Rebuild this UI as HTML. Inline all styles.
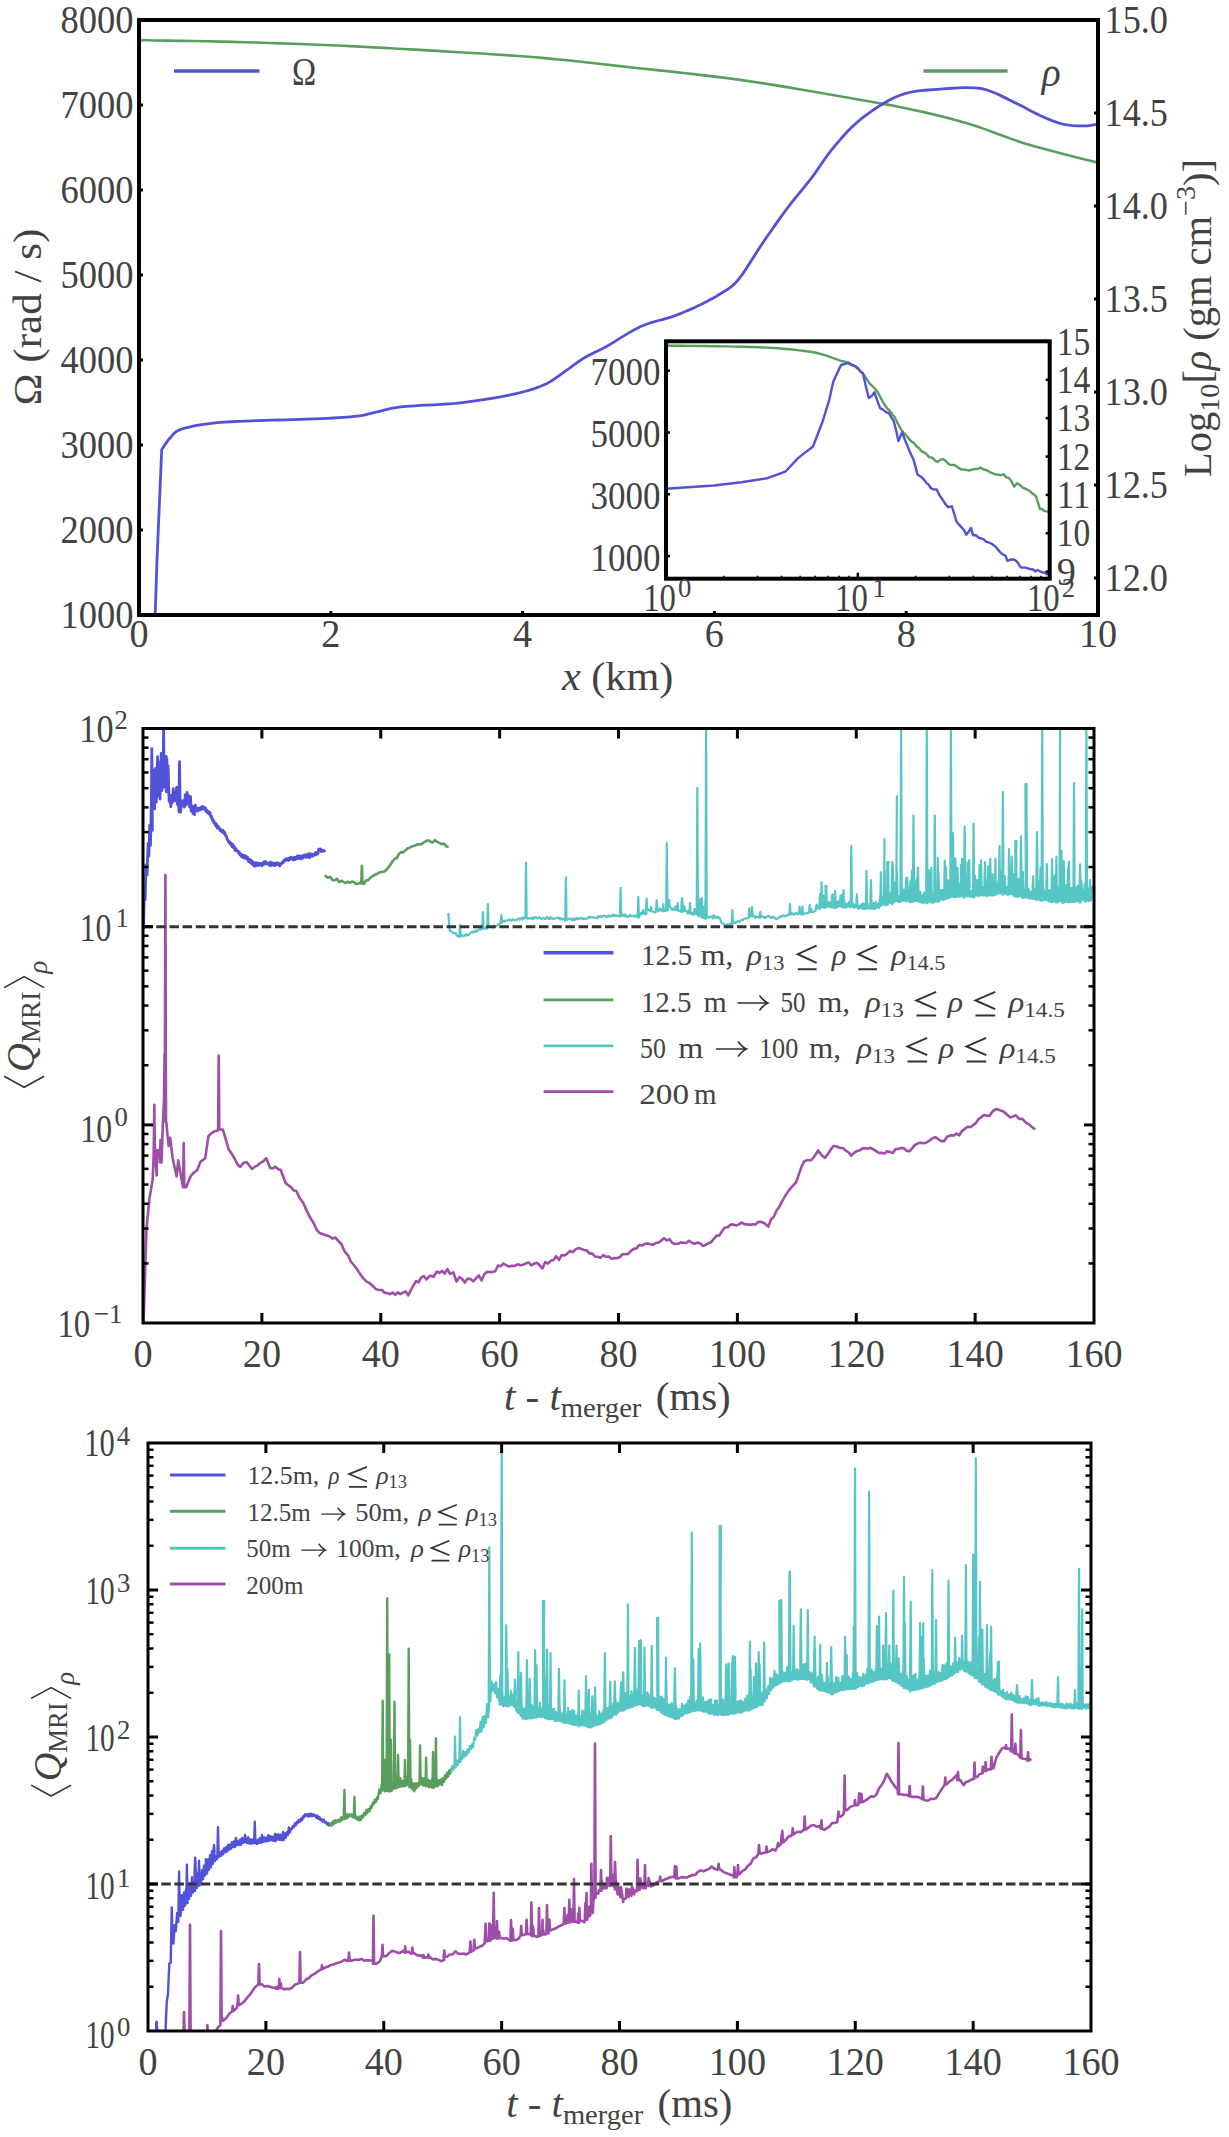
<!DOCTYPE html>
<html><head><meta charset="utf-8"><style>
html,body{margin:0;padding:0;background:#fff;}
svg{display:block;font-family:"Liberation Serif",serif;}
</style></head><body>
<svg width="1229" height="2137" viewBox="0 0 1229 2137">
<rect width="1229" height="2137" fill="#fff"/>
<g fill="#424242">
<polyline points="139.00,40.20 146.20,40.32 155.74,40.47 167.10,40.64 179.74,40.84 193.15,41.07 206.80,41.32 220.16,41.60 232.70,41.90 244.72,42.22 256.85,42.57 269.05,42.94 281.31,43.33 293.59,43.75 305.89,44.20 318.16,44.69 330.40,45.20 342.54,45.75 354.59,46.33 366.59,46.94 378.62,47.58 390.72,48.24 402.94,48.94 415.35,49.66 428.00,50.40 441.02,51.16 454.42,51.94 468.06,52.74 481.80,53.57 495.50,54.43 509.03,55.34 522.24,56.29 535.00,57.30 547.14,58.36 558.70,59.45 569.91,60.58 580.97,61.76 592.08,62.99 603.45,64.27 615.29,65.61 627.80,67.00 641.03,68.44 654.79,69.90 668.97,71.41 683.43,72.98 698.06,74.61 712.73,76.34 727.32,78.16 741.70,80.10 756.33,82.24 771.51,84.61 786.92,87.12 802.21,89.70 817.06,92.26 831.13,94.72 844.09,96.99 855.60,99.00 865.44,100.71 873.83,102.17 881.11,103.45 887.61,104.64 893.66,105.78 899.60,106.96 905.77,108.25 912.50,109.70 919.62,111.28 926.75,112.89 933.87,114.55 941.00,116.28 948.13,118.07 955.25,119.95 962.38,121.92 969.50,124.00 976.52,126.23 983.41,128.61 990.24,131.11 997.10,133.68 1004.06,136.29 1011.21,138.89 1018.63,141.44 1026.40,143.90 1035.05,146.41 1044.74,149.08 1054.97,151.79 1065.26,154.44 1075.09,156.94 1083.99,159.19 1091.46,161.07 1097.00,162.50" fill="none" stroke="#5a9e5e" stroke-width="2.6" stroke-linejoin="round" stroke-linecap="butt"/>
<polyline points="155.20,615.00 157.00,560.00 161.70,449.70 161.70,449.70 162.57,448.39 163.76,446.55 165.17,444.39 166.73,442.10 168.37,439.91 170.00,438.00 171.44,436.36 172.71,434.81 174.06,433.35 175.72,431.97 177.92,430.65 180.90,429.40 184.73,428.20 189.24,427.05 194.29,425.97 199.76,424.97 205.51,424.08 211.40,423.30 217.58,422.66 224.18,422.15 231.06,421.74 238.09,421.40 245.11,421.10 252.00,420.80 258.78,420.53 265.56,420.32 272.34,420.14 279.13,419.98 285.92,419.81 292.70,419.60 299.67,419.36 306.87,419.11 314.07,418.85 321.04,418.58 327.56,418.29 333.40,418.00 338.50,417.70 343.04,417.41 347.13,417.11 350.88,416.78 354.40,416.41 357.80,416.00 360.93,415.54 363.65,415.06 366.15,414.53 368.59,413.97 371.15,413.36 374.00,412.70 377.16,411.94 380.49,411.08 383.94,410.17 387.44,409.28 390.95,408.47 394.40,407.80 397.57,407.30 400.45,406.94 403.33,406.65 406.50,406.40 410.23,406.13 414.80,405.80 420.41,405.45 426.86,405.12 433.88,404.78 441.18,404.39 448.48,403.91 455.50,403.30 462.43,402.54 469.52,401.65 476.62,400.68 483.54,399.65 490.13,398.61 496.20,397.60 501.71,396.63 506.80,395.67 511.54,394.70 516.03,393.70 520.36,392.64 524.60,391.50 528.73,390.31 532.66,389.10 536.43,387.83 540.06,386.48 543.57,385.01 547.00,383.40 550.26,381.63 553.33,379.71 556.27,377.68 559.20,375.57 562.18,373.40 565.30,371.20 568.58,368.90 571.95,366.47 575.37,363.98 578.83,361.51 582.28,359.16 585.70,357.00 588.92,355.19 591.94,353.68 594.96,352.28 598.17,350.80 601.78,349.04 606.00,346.80 610.98,343.88 616.58,340.41 622.59,336.65 628.76,332.89 634.88,329.42 640.70,326.50 646.34,324.22 652.00,322.35 657.59,320.77 663.05,319.33 668.28,317.88 673.20,316.30 677.76,314.62 682.01,312.97 686.03,311.32 689.91,309.64 693.74,307.91 697.60,306.10 701.50,304.22 705.37,302.29 709.18,300.31 712.91,298.27 716.53,296.17 720.00,294.00 723.22,292.00 726.18,290.23 729.02,288.39 731.90,286.21 734.94,283.41 738.30,279.70 742.01,274.85 745.98,269.04 750.12,262.61 754.34,255.90 758.56,249.25 762.70,243.00 766.77,237.08 770.83,231.19 774.90,225.36 778.97,219.62 783.03,213.99 787.10,208.50 791.21,203.16 795.38,197.96 799.55,192.88 803.66,187.87 807.66,182.92 811.50,178.00 815.09,173.11 818.45,168.28 821.70,163.50 824.95,158.78 828.31,154.11 831.90,149.50 835.69,144.90 839.59,140.29 843.59,135.74 847.71,131.30 851.95,127.03 856.30,123.00 860.86,119.14 865.65,115.40 870.55,111.83 875.45,108.49 880.24,105.43 884.80,102.70 889.06,100.33 893.09,98.29 897.00,96.53 900.91,95.01 904.94,93.68 909.20,92.50 913.69,91.54 918.32,90.86 923.07,90.36 927.90,89.99 932.79,89.66 937.70,89.30 942.79,88.89 948.10,88.49 953.46,88.12 958.71,87.85 963.68,87.69 968.20,87.70 972.10,87.80 975.49,87.96 978.60,88.24 981.65,88.71 984.88,89.44 988.50,90.50 992.54,91.97 996.80,93.79 1001.24,95.88 1005.80,98.13 1010.40,100.44 1015.00,102.70 1019.72,105.04 1024.62,107.57 1029.58,110.16 1034.46,112.67 1039.11,115.00 1043.40,117.00 1047.26,118.69 1050.80,120.16 1054.11,121.44 1057.30,122.55 1060.50,123.49 1063.80,124.30 1067.27,124.93 1070.85,125.37 1074.42,125.66 1077.89,125.81 1081.15,125.88 1084.10,125.90 1086.83,125.80 1089.43,125.54 1091.82,125.20 1093.93,124.83 1095.68,124.51 1097.00,124.30" fill="none" stroke="#5252d8" stroke-width="2.8" stroke-linejoin="round" stroke-linecap="butt"/>
<line x1="174.00" y1="70.90" x2="259.40" y2="70.90" stroke="#5252d8" stroke-width="3.5"/>
<line x1="923.40" y1="71.00" x2="1007.60" y2="71.00" stroke="#5a9e5e" stroke-width="3.5"/>
<g transform="translate(292.00,84.50) scale(0.8134,1)"><text x="0.00" y="0.00" font-size="40" xml:space="preserve">Ω</text></g>
<g transform="translate(1041.86,85.78) scale(0.9412,1)"><text x="0.00" y="0.00" font-size="42.0" font-style="italic" xml:space="preserve">ρ</text></g>
<rect x="666" y="341.3" width="383.70000000000005" height="237.40000000000003" fill="#fff"/>
<polyline points="666.00,345.60 672.55,345.68 681.70,345.78 692.50,345.90 703.97,346.04 715.16,346.21 725.10,346.40 734.02,346.60 742.73,346.81 751.16,347.04 759.21,347.31 766.82,347.63 773.90,348.00 780.46,348.45 786.57,348.98 792.24,349.55 797.45,350.14 802.20,350.74 806.50,351.30 810.15,351.81 813.11,352.28 815.62,352.75 817.90,353.25 820.18,353.82 822.70,354.50 825.49,355.34 828.37,356.33 831.26,357.38 834.05,358.43 836.66,359.39 839.00,360.20 841.04,360.81 842.85,361.29 844.48,361.68 845.96,362.04 847.36,362.43 848.70,362.90 849.93,363.41 850.99,363.91 851.96,364.43 852.90,365.01 853.89,365.69 855.00,366.50 856.33,367.55 857.84,368.84 859.39,370.23 860.86,371.56 862.11,372.70 863.00,373.50 863.00,373.67 865.23,377.01 867.47,380.25 869.70,383.62 872.55,386.24 875.40,389.39 877.80,392.19 880.20,396.85 882.60,401.57 885.00,405.21 887.40,408.66 889.80,410.66 892.20,414.26 894.60,417.05 897.13,422.26 899.67,427.10 902.20,431.12 904.60,433.78 907.00,436.24 909.40,439.51 911.80,441.67 914.17,443.22 916.55,446.52 918.92,447.99 921.30,451.06 923.87,452.28 926.43,454.00 929.00,457.12 931.15,457.39 933.30,458.60 935.45,460.88 937.60,461.92 940.45,459.66 943.30,459.15 945.53,460.79 947.77,463.22 950.00,464.79 953.80,464.92 956.37,466.17 958.93,468.15 961.50,469.65 964.03,469.45 966.57,470.17 969.10,470.53 971.40,469.92 973.70,469.23 976.00,468.98 978.30,468.82 980.60,467.40 983.00,469.30 985.40,469.77 987.80,470.68 990.20,472.35 993.05,473.32 995.90,474.54 998.47,474.77 1001.03,475.09 1003.60,474.18 1006.13,477.37 1008.67,477.93 1011.20,480.85 1014.10,486.78 1017.00,483.33 1020.80,485.70 1023.00,487.81 1026.50,489.21 1029.35,490.81 1032.20,493.27 1036.10,496.35 1039.90,508.94 1041.95,508.98 1044.00,510.86 1046.70,511.40 1049.40,511.72" fill="none" stroke="#5a9e5e" stroke-width="2.4" stroke-linejoin="round" stroke-linecap="butt"/>
<polyline points="666.00,488.80 713.70,485.50 741.40,482.30 767.40,478.20 785.30,471.70 798.30,457.90 813.00,446.50 822.70,421.20 829.20,400.10 833.30,381.40 841.00,365.00 848.70,362.90 848.70,363.49 850.93,364.84 853.17,365.47 855.40,366.32 857.93,368.03 860.47,371.59 863.00,373.44 865.90,386.42 868.80,398.05 871.65,395.99 874.50,392.15 877.35,400.85 880.20,408.36 882.35,409.15 884.50,410.83 886.65,412.54 888.80,412.99 891.20,417.06 893.60,420.91 896.00,429.88 898.40,441.01 902.20,432.17 904.77,439.49 907.33,445.47 909.90,451.99 913.70,460.10 917.50,474.41 919.73,475.92 921.97,477.45 924.20,479.89 926.35,482.92 928.50,484.38 930.65,487.85 932.80,489.28 936.60,489.50 939.50,495.21 942.40,499.42 945.25,503.87 948.10,507.12 951.90,506.33 954.30,514.24 956.70,522.00 959.10,524.61 961.50,527.35 963.90,529.76 966.30,534.72 968.65,531.85 971.00,527.91 973.00,535.18 975.85,535.18 978.70,537.76 981.10,538.48 983.50,539.08 985.90,541.60 988.30,542.32 991.15,543.49 994.00,545.47 996.85,548.13 999.70,551.62 1002.60,554.38 1005.50,555.50 1007.40,560.83 1011.20,559.46 1014.05,559.38 1016.90,561.47 1020.80,567.41 1023.17,567.54 1025.55,567.61 1027.92,568.45 1030.30,569.18 1032.70,569.15 1035.10,571.40 1037.50,570.01 1039.90,571.25 1042.18,572.54 1044.45,572.50 1046.72,574.31 1049.00,573.49" fill="none" stroke="#5252d8" stroke-width="2.4" stroke-linejoin="round" stroke-linecap="butt"/>
<rect x="666.00" y="341.30" width="383.70" height="237.40" fill="none" stroke="#000" stroke-width="4"/>
<line x1="666.00" y1="370.70" x2="670.00" y2="370.70" stroke="#000" stroke-width="2.5"/>
<g transform="translate(590.60,385.32) scale(0.8750,1)"><text x="0.00" y="0.00" font-size="40" xml:space="preserve">7000</text></g>
<line x1="666.00" y1="432.50" x2="670.00" y2="432.50" stroke="#000" stroke-width="2.5"/>
<g transform="translate(590.60,447.12) scale(0.8750,1)"><text x="0.00" y="0.00" font-size="40" xml:space="preserve">5000</text></g>
<line x1="666.00" y1="494.30" x2="670.00" y2="494.30" stroke="#000" stroke-width="2.5"/>
<g transform="translate(590.60,508.93) scale(0.8750,1)"><text x="0.00" y="0.00" font-size="40" xml:space="preserve">3000</text></g>
<line x1="666.00" y1="556.10" x2="670.00" y2="556.10" stroke="#000" stroke-width="2.5"/>
<g transform="translate(590.60,570.73) scale(0.8750,1)"><text x="0.00" y="0.00" font-size="40" xml:space="preserve">1000</text></g>
<g transform="translate(1056.80,354.50) scale(0.8375,1)"><text x="0.00" y="0.00" font-size="40" xml:space="preserve">15</text></g>
<line x1="1045.70" y1="379.85" x2="1049.70" y2="379.85" stroke="#000" stroke-width="2.5"/>
<g transform="translate(1056.80,393.04) scale(0.8375,1)"><text x="0.00" y="0.00" font-size="40" xml:space="preserve">14</text></g>
<line x1="1045.70" y1="418.20" x2="1049.70" y2="418.20" stroke="#000" stroke-width="2.5"/>
<g transform="translate(1056.80,431.26) scale(0.8375,1)"><text x="0.00" y="0.00" font-size="40" xml:space="preserve">13</text></g>
<line x1="1045.70" y1="456.55" x2="1049.70" y2="456.55" stroke="#000" stroke-width="2.5"/>
<g transform="translate(1056.80,469.80) scale(0.8375,1)"><text x="0.00" y="0.00" font-size="40" xml:space="preserve">12</text></g>
<line x1="1045.70" y1="494.90" x2="1049.70" y2="494.90" stroke="#000" stroke-width="2.5"/>
<g transform="translate(1056.80,508.09) scale(0.8701,1)"><text x="0.00" y="0.00" font-size="40" xml:space="preserve">11</text></g>
<line x1="1045.70" y1="533.25" x2="1049.70" y2="533.25" stroke="#000" stroke-width="2.5"/>
<g transform="translate(1056.80,546.38) scale(0.8375,1)"><text x="0.00" y="0.00" font-size="40" xml:space="preserve">10</text></g>
<line x1="1045.70" y1="571.60" x2="1049.70" y2="571.60" stroke="#000" stroke-width="2.5"/>
<g transform="translate(1056.80,584.66) scale(0.9550,1)"><text x="0.00" y="0.00" font-size="40" xml:space="preserve">9</text></g>
<line x1="723.75" y1="578.70" x2="723.75" y2="575.70" stroke="#000" stroke-width="1.5"/>
<line x1="757.54" y1="578.70" x2="757.54" y2="575.70" stroke="#000" stroke-width="1.5"/>
<line x1="781.51" y1="578.70" x2="781.51" y2="575.70" stroke="#000" stroke-width="1.5"/>
<line x1="800.10" y1="578.70" x2="800.10" y2="575.70" stroke="#000" stroke-width="1.5"/>
<line x1="815.29" y1="578.70" x2="815.29" y2="575.70" stroke="#000" stroke-width="1.5"/>
<line x1="828.13" y1="578.70" x2="828.13" y2="575.70" stroke="#000" stroke-width="1.5"/>
<line x1="839.26" y1="578.70" x2="839.26" y2="575.70" stroke="#000" stroke-width="1.5"/>
<line x1="849.07" y1="578.70" x2="849.07" y2="575.70" stroke="#000" stroke-width="1.5"/>
<g transform="translate(643.20,611.27) scale(0.8200,1)"><text x="0.00" y="0.00" font-size="40" xml:space="preserve">10</text></g>
<g transform="translate(678.00,597.29) scale(0.9550,1)"><text x="0.00" y="0.00" font-size="28" xml:space="preserve">0</text></g>
<line x1="915.60" y1="578.70" x2="915.60" y2="575.70" stroke="#000" stroke-width="1.5"/>
<line x1="949.39" y1="578.70" x2="949.39" y2="575.70" stroke="#000" stroke-width="1.5"/>
<line x1="973.36" y1="578.70" x2="973.36" y2="575.70" stroke="#000" stroke-width="1.5"/>
<line x1="991.95" y1="578.70" x2="991.95" y2="575.70" stroke="#000" stroke-width="1.5"/>
<line x1="1007.14" y1="578.70" x2="1007.14" y2="575.70" stroke="#000" stroke-width="1.5"/>
<line x1="1019.98" y1="578.70" x2="1019.98" y2="575.70" stroke="#000" stroke-width="1.5"/>
<line x1="1031.11" y1="578.70" x2="1031.11" y2="575.70" stroke="#000" stroke-width="1.5"/>
<line x1="1040.92" y1="578.70" x2="1040.92" y2="575.70" stroke="#000" stroke-width="1.5"/>
<line x1="857.85" y1="578.70" x2="857.85" y2="572.70" stroke="#000" stroke-width="2.5"/>
<g transform="translate(835.05,611.27) scale(0.8200,1)"><text x="0.00" y="0.00" font-size="40" xml:space="preserve">10</text></g>
<g transform="translate(872.55,597.35) scale(0.9550,1)"><text x="0.00" y="0.00" font-size="28" xml:space="preserve">1</text></g>
<g transform="translate(1026.90,611.27) scale(0.8200,1)"><text x="0.00" y="0.00" font-size="40" xml:space="preserve">10</text></g>
<g transform="translate(1061.70,597.35) scale(0.9550,1)"><text x="0.00" y="0.00" font-size="28" xml:space="preserve">2</text></g>
<rect x="139.00" y="20.00" width="959.00" height="595.00" fill="none" stroke="#000" stroke-width="4"/>
<g transform="translate(60.40,628.12) scale(0.9125,1)"><text x="0.00" y="0.00" font-size="40" xml:space="preserve">1000</text></g>
<line x1="139.00" y1="530.00" x2="143.00" y2="530.00" stroke="#000" stroke-width="3"/>
<g transform="translate(60.40,543.12) scale(0.9125,1)"><text x="0.00" y="0.00" font-size="40" xml:space="preserve">2000</text></g>
<line x1="139.00" y1="445.00" x2="143.00" y2="445.00" stroke="#000" stroke-width="3"/>
<g transform="translate(60.40,458.12) scale(0.9125,1)"><text x="0.00" y="0.00" font-size="40" xml:space="preserve">3000</text></g>
<line x1="139.00" y1="360.00" x2="143.00" y2="360.00" stroke="#000" stroke-width="3"/>
<g transform="translate(60.40,373.12) scale(0.9125,1)"><text x="0.00" y="0.00" font-size="40" xml:space="preserve">4000</text></g>
<line x1="139.00" y1="275.00" x2="143.00" y2="275.00" stroke="#000" stroke-width="3"/>
<g transform="translate(60.40,288.12) scale(0.9125,1)"><text x="0.00" y="0.00" font-size="40" xml:space="preserve">5000</text></g>
<line x1="139.00" y1="190.00" x2="143.00" y2="190.00" stroke="#000" stroke-width="3"/>
<g transform="translate(60.40,203.12) scale(0.9125,1)"><text x="0.00" y="0.00" font-size="40" xml:space="preserve">6000</text></g>
<line x1="139.00" y1="105.00" x2="143.00" y2="105.00" stroke="#000" stroke-width="3"/>
<g transform="translate(60.40,118.12) scale(0.9125,1)"><text x="0.00" y="0.00" font-size="40" xml:space="preserve">7000</text></g>
<g transform="translate(60.40,33.12) scale(0.9125,1)"><text x="0.00" y="0.00" font-size="40" xml:space="preserve">8000</text></g>

<g transform="translate(129.45,647.33) scale(0.9550,1)"><text x="0.00" y="0.00" font-size="40" xml:space="preserve">0</text></g>
<line x1="330.80" y1="615.00" x2="330.80" y2="611.00" stroke="#000" stroke-width="3"/>

<g transform="translate(321.25,647.45) scale(0.9550,1)"><text x="0.00" y="0.00" font-size="40" xml:space="preserve">2</text></g>
<line x1="522.60" y1="615.00" x2="522.60" y2="611.00" stroke="#000" stroke-width="3"/>

<g transform="translate(513.05,647.39) scale(0.9550,1)"><text x="0.00" y="0.00" font-size="40" xml:space="preserve">4</text></g>
<line x1="714.40" y1="615.00" x2="714.40" y2="611.00" stroke="#000" stroke-width="3"/>

<g transform="translate(704.85,647.26) scale(0.9550,1)"><text x="0.00" y="0.00" font-size="40" xml:space="preserve">6</text></g>
<line x1="906.20" y1="615.00" x2="906.20" y2="611.00" stroke="#000" stroke-width="3"/>

<g transform="translate(896.65,647.33) scale(0.9550,1)"><text x="0.00" y="0.00" font-size="40" xml:space="preserve">8</text></g>

<g transform="translate(1078.90,647.33) scale(0.9550,1)"><text x="0.00" y="0.00" font-size="40" xml:space="preserve">10</text></g>
<g transform="translate(1104.50,33.00) scale(0.9071,1)"><text x="0.00" y="0.00" font-size="40" xml:space="preserve">15.0</text></g>
<line x1="1098.00" y1="113.00" x2="1094.00" y2="113.00" stroke="#000" stroke-width="3"/>
<g transform="translate(1104.50,125.88) scale(0.9071,1)"><text x="0.00" y="0.00" font-size="40" xml:space="preserve">14.5</text></g>
<line x1="1098.00" y1="206.00" x2="1094.00" y2="206.00" stroke="#000" stroke-width="3"/>
<g transform="translate(1104.50,219.00) scale(0.9071,1)"><text x="0.00" y="0.00" font-size="40" xml:space="preserve">14.0</text></g>
<line x1="1098.00" y1="299.00" x2="1094.00" y2="299.00" stroke="#000" stroke-width="3"/>
<g transform="translate(1104.50,311.94) scale(0.9071,1)"><text x="0.00" y="0.00" font-size="40" xml:space="preserve">13.5</text></g>
<line x1="1098.00" y1="392.00" x2="1094.00" y2="392.00" stroke="#000" stroke-width="3"/>
<g transform="translate(1104.50,405.00) scale(0.9071,1)"><text x="0.00" y="0.00" font-size="40" xml:space="preserve">13.0</text></g>
<line x1="1098.00" y1="485.00" x2="1094.00" y2="485.00" stroke="#000" stroke-width="3"/>
<g transform="translate(1104.50,497.94) scale(0.9071,1)"><text x="0.00" y="0.00" font-size="40" xml:space="preserve">12.5</text></g>
<line x1="1098.00" y1="578.00" x2="1094.00" y2="578.00" stroke="#000" stroke-width="3"/>
<g transform="translate(1104.50,591.00) scale(0.9071,1)"><text x="0.00" y="0.00" font-size="40" xml:space="preserve">12.0</text></g>
<g transform="translate(561.93,689.83) scale(1.0566,1)"><text x="0.00" y="0.00" font-size="40" font-style="italic" xml:space="preserve">x</text><text x="17.75" y="0.00" font-size="40" xml:space="preserve"> (km)</text></g>
<g transform="translate(31.50,317.00) rotate(-90) translate(-88.45,9.62) scale(1.0778,1)"><text x="0.00" y="0.00" font-size="40" xml:space="preserve">Ω (rad / s)</text></g>
<g transform="translate(1198.00,318.00) rotate(-90) translate(-159.00,12.94) scale(1.0106,1)"><text x="0.00" y="0.00" font-size="40" xml:space="preserve">Log</text><text x="64.43" y="8.00" font-size="28" xml:space="preserve">10</text><text x="92.43" y="0.00" font-size="40" xml:space="preserve">[</text><text x="105.75" y="0.00" font-size="40" font-style="italic" xml:space="preserve">ρ</text><text x="124.95" y="0.00" font-size="40" xml:space="preserve"> (gm cm</text><text x="258.25" y="-16.00" font-size="28" xml:space="preserve">−3</text><text x="288.04" y="0.00" font-size="40" xml:space="preserve">)]</text></g>
<defs><clipPath id="clip2"><rect x="143" y="728.5" width="951" height="594.5"/></clipPath><clipPath id="clip3"><rect x="148" y="1443" width="943" height="588"/></clipPath></defs>
<g clip-path="url(#clip2)">
<polyline points="143.50,1324.46 144.50,1291.43 146.50,1228.58 149.50,1198.37 152.70,1179.07 153.70,1154.76 154.30,1104.80 154.90,1154.76 155.10,1154.76 156.70,1175.34 156.90,1150.39 157.50,1150.00 158.10,1150.39 159.10,1150.39 159.90,1162.34 160.50,1140.00 161.10,1162.34 161.50,1162.34 163.00,1121.04 164.00,1100.26 164.60,1054.00 165.20,1100.26 164.60,1100.26 164.80,1121.21 165.40,875.10 166.00,1121.21 166.20,1121.21 168.60,1145.98 170.20,1137.86 172.60,1158.01 176.60,1176.38 178.20,1160.34 181.30,1178.14 183.10,1187.32 183.70,1143.00 184.30,1187.32 186.10,1187.32 190.90,1175.66 194.05,1172.51 197.20,1170.09 200.40,1161.89 205.20,1158.32 208.40,1136.22 211.50,1133.15 214.70,1131.18 217.90,1130.49 218.10,1129.46 218.70,1055.50 219.30,1129.46 222.70,1129.46 223.30,1130.98 228.50,1148.94 232.40,1154.84 235.03,1159.50 237.67,1164.53 240.30,1166.96 243.55,1162.68 246.80,1162.26 252.00,1168.95 254.60,1166.92 257.20,1165.63 259.80,1163.34 263.05,1161.48 266.30,1158.13 270.20,1167.94 272.80,1168.53 275.40,1166.62 278.00,1169.16 280.60,1169.69 285.80,1183.18 288.43,1185.32 291.05,1187.12 293.68,1190.43 296.30,1191.00 299.77,1198.19 303.23,1202.80 306.70,1210.63 310.13,1217.55 313.57,1223.01 317.00,1230.22 319.62,1233.02 322.25,1234.07 324.88,1234.98 327.50,1235.81 330.12,1236.79 332.75,1238.64 335.38,1237.58 338.00,1240.61 341.43,1244.22 344.87,1251.95 348.30,1255.69 350.93,1261.66 353.55,1264.76 356.18,1268.01 358.80,1271.96 361.40,1275.85 364.00,1279.11 366.60,1281.70 369.72,1283.19 372.84,1285.98 375.96,1289.15 379.08,1289.97 382.20,1290.04 384.80,1292.95 387.40,1293.16 390.00,1294.26 392.60,1292.49 395.20,1294.78 397.80,1292.37 400.40,1294.06 403.00,1292.62 405.60,1291.38 408.20,1295.32 410.80,1290.18 416.00,1281.14 418.62,1282.27 421.25,1277.37 423.88,1276.15 426.50,1279.44 429.97,1275.67 433.43,1276.72 436.90,1271.50 439.52,1272.92 442.14,1271.00 444.76,1273.51 447.38,1269.03 450.00,1273.91 453.30,1272.46 456.60,1281.47 459.36,1277.14 462.12,1278.84 464.88,1282.61 467.64,1278.61 470.40,1278.98 473.18,1281.31 475.96,1278.43 478.74,1275.32 481.52,1280.46 484.30,1274.17 487.04,1271.75 489.78,1272.04 492.52,1272.10 495.26,1271.23 498.00,1265.52 500.79,1266.19 503.57,1263.45 506.36,1265.36 509.14,1266.62 511.93,1265.68 514.71,1265.94 517.50,1264.24 520.27,1265.30 523.03,1264.67 525.80,1263.56 528.57,1262.35 531.33,1265.52 534.10,1263.69 536.87,1262.70 539.63,1265.29 542.40,1268.40 545.17,1262.12 547.93,1263.54 550.70,1260.81 553.47,1260.09 556.23,1256.22 559.00,1259.94 561.76,1254.94 564.51,1255.47 567.27,1253.65 570.03,1250.88 572.79,1252.25 575.54,1249.42 578.30,1248.05 581.08,1248.66 583.87,1249.94 586.65,1250.37 589.43,1253.46 592.22,1253.62 595.00,1256.43 597.75,1256.89 600.50,1257.84 603.25,1255.17 606.00,1256.79 608.75,1256.62 611.50,1258.80 614.29,1258.17 617.07,1258.18 619.86,1257.01 622.64,1254.24 625.43,1254.20 628.21,1253.89 631.00,1250.82 633.75,1248.86 636.50,1248.40 639.25,1244.99 642.00,1245.58 644.75,1243.81 647.50,1243.54 650.25,1244.25 653.00,1244.82 655.75,1243.01 658.50,1242.59 661.25,1240.59 664.00,1238.16 666.80,1240.36 669.60,1239.21 672.40,1243.01 675.20,1244.00 678.00,1243.71 680.75,1242.41 683.50,1242.75 686.25,1243.06 689.00,1240.73 691.77,1242.79 694.53,1243.71 697.30,1242.65 700.07,1243.20 702.83,1245.92 705.60,1244.97 708.35,1243.19 711.10,1242.20 713.85,1238.93 716.60,1235.63 719.38,1235.42 722.15,1231.04 724.93,1227.49 727.70,1227.19 730.48,1224.62 733.25,1224.58 736.02,1225.59 738.80,1224.35 741.56,1222.53 744.32,1224.20 747.08,1224.35 749.84,1224.87 752.60,1224.27 755.40,1224.58 758.20,1222.04 761.00,1221.81 764.65,1223.44 768.30,1226.59 771.07,1219.24 773.83,1216.82 776.60,1210.42 779.35,1206.78 782.10,1201.35 785.55,1195.38 789.00,1190.11 792.50,1186.16 796.00,1182.49 798.77,1174.66 801.53,1166.69 804.30,1161.32 807.75,1159.95 811.20,1160.27 814.65,1156.02 818.10,1150.48 821.55,1155.01 825.00,1157.89 827.77,1154.18 830.53,1149.93 833.30,1145.94 836.75,1146.56 840.20,1147.96 842.98,1148.04 845.75,1150.63 848.52,1152.25 851.30,1155.56 854.05,1152.87 856.80,1151.08 859.56,1150.56 862.32,1148.61 865.08,1148.18 867.84,1148.78 870.60,1147.83 873.38,1149.34 876.15,1151.12 878.93,1152.86 881.70,1152.77 884.47,1153.52 887.23,1151.21 890.00,1152.04 892.77,1152.99 895.53,1149.17 898.30,1148.93 901.07,1147.94 903.85,1148.13 906.62,1150.84 909.40,1151.26 912.17,1148.34 914.93,1144.84 917.70,1143.55 920.45,1142.64 923.20,1143.35 925.95,1142.68 928.70,1141.20 932.90,1138.08 935.67,1137.33 938.45,1139.28 941.23,1141.16 944.00,1141.12 947.45,1136.51 950.90,1135.35 953.67,1135.56 956.43,1133.66 959.20,1135.26 961.95,1131.08 964.70,1129.05 967.48,1126.72 970.25,1127.23 973.02,1125.18 975.80,1123.14 978.55,1118.96 981.30,1117.11 984.07,1114.89 986.83,1115.80 989.60,1115.82 993.05,1110.78 996.50,1109.03 999.95,1110.34 1003.40,1111.50 1006.85,1114.57 1010.30,1117.40 1013.10,1116.36 1015.90,1115.31 1019.13,1118.91 1022.37,1118.92 1025.60,1122.29 1028.80,1124.31 1032.00,1126.94 1035.20,1129.53" fill="none" stroke="#9e4ea8" stroke-width="2.6" stroke-linejoin="round" stroke-linecap="butt"/>
<polyline points="143.50,929.45 144.33,891.82 145.17,899.81 146.00,865.00 147.05,874.95 148.10,843.48 148.90,856.02 149.70,825.21 150.50,845.42 151.35,802.16 151.20,830.30 151.80,748.60 152.40,830.30 152.20,830.30 152.40,781.19 153.00,769.80 153.60,781.19 153.50,781.19 154.50,809.03 155.50,768.29 156.33,802.13 157.17,769.31 156.90,795.81 157.50,756.70 158.10,795.81 158.00,795.81 159.00,762.13 160.00,799.20 161.00,761.20 160.60,790.53 161.20,753.50 161.80,790.53 162.00,790.53 162.80,768.58 163.00,787.16 163.60,725.00 164.20,787.16 163.60,787.16 164.40,756.43 165.32,786.88 166.25,756.46 166.30,791.78 166.90,759.20 167.50,791.78 167.18,791.78 168.10,765.84 169.10,801.37 170.10,800.27 170.90,806.47 171.70,795.14 172.50,802.41 173.32,788.68 174.14,800.95 174.96,795.57 175.78,800.57 176.60,787.37 177.43,804.32 178.25,796.06 179.07,811.97 178.90,804.73 179.50,761.60 180.10,804.73 179.90,804.73 180.70,812.00 181.50,800.82 182.30,805.01 183.30,800.67 184.30,807.16 185.23,794.82 186.15,804.85 187.07,792.35 188.00,803.57 188.81,795.86 189.63,807.06 190.44,796.36 191.26,811.16 192.07,805.55 192.89,813.47 193.70,807.19 194.52,814.53 195.35,805.12 196.18,810.82 197.00,808.20 197.81,811.18 198.62,808.23 199.43,810.01 200.24,807.89 201.06,809.51 201.87,806.70 202.68,808.93 203.49,806.79 204.30,808.97 205.12,807.61 205.93,811.40 206.75,810.01 207.57,812.78 208.38,811.17 209.20,813.99 210.01,812.59 210.82,817.06 211.64,816.37 212.45,820.48 213.26,819.96 214.07,823.12 214.89,822.47 215.70,825.96 216.51,823.98 217.32,828.13 218.12,826.02 218.93,828.78 219.74,828.36 220.55,830.72 221.36,830.00 222.17,831.99 222.97,830.33 223.78,833.29 224.59,832.21 225.40,835.46 226.23,835.74 227.07,839.14 227.90,840.06 228.71,842.23 229.51,841.74 230.32,844.04 231.13,843.35 231.93,846.79 232.74,844.06 233.55,847.72 234.35,846.41 235.16,850.54 235.97,848.81 236.77,850.72 237.58,850.81 238.39,852.74 239.19,851.86 240.00,854.95 240.85,853.87 241.70,856.82 242.55,855.12 243.40,857.87 244.25,855.42 245.10,858.08 245.95,856.11 246.80,858.98 247.67,857.24 248.53,861.60 249.40,859.36 250.27,862.57 251.13,860.00 252.00,864.12 252.87,861.80 253.73,865.82 254.60,862.92 255.40,866.21 256.20,862.64 257.00,865.08 257.80,863.08 258.60,865.64 259.40,863.34 260.20,864.89 261.00,863.49 261.80,865.82 262.60,862.96 263.40,864.65 264.20,861.79 265.00,863.87 265.82,861.61 266.64,863.84 267.46,863.38 268.28,864.37 269.11,862.86 269.93,865.59 270.75,862.00 271.57,865.36 272.39,862.89 273.21,865.01 274.03,863.34 274.85,865.67 275.67,863.15 276.49,864.66 277.32,862.78 278.14,864.47 278.96,863.45 279.78,866.11 280.60,863.93 281.47,863.80 282.33,862.17 283.20,862.45 284.07,860.21 284.93,860.88 285.80,858.78 286.63,859.96 287.45,858.69 288.28,860.41 289.11,858.25 289.93,859.66 290.76,857.20 291.58,858.77 292.41,858.05 293.24,860.07 294.06,857.26 294.89,859.65 295.72,857.52 296.54,858.87 297.37,855.96 298.19,858.22 299.02,855.83 299.85,858.49 300.67,856.23 301.50,858.99 302.32,855.96 303.13,857.67 303.95,855.27 304.76,857.09 305.58,854.61 306.39,857.37 307.21,854.78 308.03,856.98 308.84,853.80 309.66,857.61 310.47,853.78 311.29,856.27 312.11,854.28 312.92,856.13 313.74,854.66 314.55,855.03 315.37,852.68 316.18,854.79 317.00,852.51 317.90,854.03 318.80,849.09 319.70,849.35 320.57,848.88 321.43,851.66 322.30,850.28 323.17,851.15 324.03,850.54 324.90,852.15" fill="none" stroke="#5252d8" stroke-width="2.8" stroke-linejoin="round" stroke-linecap="butt"/>
<polyline points="324.90,875.19 327.50,877.64 330.10,876.79 332.70,880.31 334.87,880.00 337.03,878.85 339.20,882.05 341.37,880.72 343.53,882.09 345.70,882.98 347.74,881.72 349.79,882.81 351.83,881.48 353.87,881.90 355.91,884.06 357.96,883.77 360.00,882.87 361.30,883.35 361.90,865.80 362.50,883.35 362.00,883.35 364.00,883.93 366.08,880.41 368.16,880.16 370.24,877.77 372.32,876.41 374.40,875.07 376.48,874.34 378.56,872.81 380.64,872.25 382.72,871.69 384.80,871.37 387.40,868.61 390.00,865.28 392.60,861.25 394.68,858.80 396.76,858.21 398.84,854.13 400.92,852.14 403.00,852.45 405.08,850.84 407.16,848.55 409.24,848.01 411.32,846.73 413.40,846.09 415.58,845.20 417.77,844.23 419.95,844.54 422.13,843.70 424.32,842.07 426.50,840.92 428.58,840.35 430.66,841.80 432.74,842.46 434.82,840.19 436.90,841.61 439.24,842.92 441.58,844.11 443.92,843.55 446.26,846.44 448.60,846.71" fill="none" stroke="#5a9e5e" stroke-width="2.6" stroke-linejoin="round" stroke-linecap="butt"/>
<polyline points="448.30,912.87 449.70,930.39 450.70,931.18 451.70,931.77 452.70,932.69 453.70,933.23 454.70,933.32 455.70,932.93 456.70,935.31 457.70,936.07 458.70,936.73 459.70,936.80 459.40,936.09 460.00,925.00 460.60,936.09 460.70,936.09 461.78,936.00 462.86,935.33 463.93,936.13 465.01,935.44 466.09,934.11 467.17,935.49 468.24,935.08 469.32,934.42 470.40,932.91 471.41,932.12 472.42,931.54 473.43,932.63 474.44,931.95 475.45,930.56 476.45,931.67 477.46,930.49 478.47,929.74 479.48,929.36 480.49,929.71 481.50,928.69 482.56,928.97 482.30,927.48 482.90,912.00 483.50,927.48 483.62,927.48 484.68,928.66 485.75,927.42 486.81,928.75 487.87,926.87 487.30,926.95 487.90,904.00 488.50,926.95 488.93,926.95 489.99,927.23 491.05,926.67 492.12,926.78 493.18,927.53 494.24,925.59 495.30,926.75 496.31,926.06 497.32,925.79 498.33,924.47 499.34,923.99 500.35,923.23 501.35,923.04 500.80,922.01 501.40,915.00 502.00,922.01 502.36,922.01 503.37,921.36 504.38,921.54 505.39,920.36 506.40,920.53 507.44,920.65 508.47,919.89 509.51,919.43 510.55,920.35 511.59,920.84 512.62,919.18 513.66,920.00 514.70,919.98 515.74,920.40 516.77,919.79 517.81,918.76 518.85,918.40 519.89,919.78 520.92,918.37 521.96,917.56 523.00,919.49 524.02,917.85 525.04,918.09 525.40,918.08 526.00,862.50 526.60,918.08 526.07,918.08 527.09,917.90 528.11,918.99 529.13,918.05 530.16,918.25 531.18,918.17 532.20,919.13 533.22,917.15 534.24,918.47 535.27,917.36 536.29,917.38 537.31,918.44 538.33,917.86 539.36,917.08 540.38,918.31 541.40,919.06 542.42,918.39 543.44,918.00 544.47,918.70 545.49,918.95 546.51,917.08 547.53,917.41 548.56,918.97 549.58,918.85 550.60,917.09 551.64,918.41 552.68,918.94 553.71,918.38 554.75,918.76 555.79,918.45 556.83,917.88 557.86,917.94 558.90,917.70 559.94,919.27 560.98,918.12 562.01,919.40 563.05,918.96 564.09,919.19 565.12,920.59 565.30,919.32 565.90,877.70 566.50,919.32 566.16,919.32 567.20,919.64 568.24,919.33 569.28,918.86 570.31,918.80 571.35,919.46 572.39,920.07 573.43,918.24 574.46,920.22 575.50,919.49 576.54,917.92 577.58,919.41 578.61,918.59 579.65,918.79 580.69,917.71 581.73,918.62 582.76,918.56 583.80,919.11 584.84,918.55 585.88,918.77 586.91,918.76 587.95,917.45 588.99,916.90 590.02,917.91 591.06,916.99 592.10,916.94 593.14,917.26 594.18,917.66 595.21,917.73 596.25,917.68 597.29,918.28 598.33,916.15 599.36,917.12 600.40,915.87 601.44,917.16 602.48,916.48 603.51,915.65 604.55,915.95 605.59,916.67 606.62,916.10 607.66,917.12 608.70,915.59 609.74,915.43 610.77,916.71 611.81,915.84 612.85,914.52 613.89,916.03 614.92,914.91 615.96,916.19 617.00,915.33 618.01,915.80 619.02,916.08 620.03,915.21 620.00,916.38 620.60,887.90 621.20,916.38 621.04,916.38 622.05,914.18 623.05,915.00 624.06,916.26 625.07,914.33 626.08,915.99 627.09,916.83 628.10,916.22 629.11,916.63 630.12,914.81 631.13,915.99 632.14,916.22 633.15,915.86 634.15,915.89 635.16,916.84 636.17,915.40 637.18,915.18 638.19,916.56 637.70,917.52 638.30,897.00 638.90,917.52 639.20,917.52 640.24,914.40 641.28,912.58 642.31,914.13 643.35,910.17 644.39,913.30 645.42,914.39 646.46,913.35 646.02,909.20 646.62,898.49 647.22,909.20 647.50,909.20 648.54,909.61 649.58,910.70 650.61,911.00 650.41,911.16 651.01,906.98 651.61,911.16 651.65,911.16 652.69,911.41 653.72,912.06 654.76,912.45 655.80,912.04 656.09,909.79 656.69,900.28 657.29,909.79 656.82,909.79 657.83,910.50 658.85,911.38 659.86,908.44 660.88,909.08 661.89,910.88 662.91,909.28 662.68,911.27 663.28,904.33 663.88,911.27 663.93,911.27 664.94,910.52 665.96,910.90 666.20,909.00 666.80,843.10 667.40,909.00 666.97,909.00 667.99,910.19 667.48,906.64 668.08,905.77 668.68,906.64 668.40,906.64 668.38,900.00 668.98,905.35 669.58,900.00 669.00,900.00 669.60,906.64 669.01,906.64 670.02,906.43 671.04,908.48 672.05,909.81 673.07,908.55 674.08,909.99 675.10,906.63 676.12,909.76 677.14,910.44 677.02,910.36 677.62,903.16 678.22,910.36 678.16,910.36 679.18,910.68 680.21,911.25 681.23,911.87 681.38,911.98 681.37,906.53 681.97,898.21 681.68,906.53 682.28,900.21 682.88,906.53 682.57,906.53 681.98,906.53 682.58,911.98 682.25,911.98 682.42,910.71 683.02,907.73 683.62,910.71 683.27,910.71 684.29,906.23 685.31,910.95 686.33,910.80 687.35,913.48 688.37,911.00 689.39,911.36 689.40,913.56 690.00,903.00 690.60,913.56 690.42,913.56 691.44,914.14 692.46,912.82 693.48,914.76 694.50,908.83 695.51,913.87 696.52,912.62 696.70,914.06 697.30,787.80 697.90,914.06 697.53,914.06 698.54,916.16 699.55,913.31 699.40,911.63 700.00,899.00 700.60,911.63 700.55,911.63 701.56,914.58 701.21,917.09 701.81,898.15 702.41,917.09 702.57,917.09 702.42,917.70 703.02,906.39 703.62,917.70 703.58,917.70 704.59,917.08 704.83,918.64 705.43,901.04 706.03,918.64 705.60,918.64 705.50,916.88 706.10,725.00 706.70,916.88 706.60,916.88 707.60,917.61 708.60,916.92 709.60,917.55 710.60,916.47 711.60,916.49 712.60,918.60 713.60,915.20 714.60,917.96 715.60,916.60 716.60,917.77 717.64,916.57 718.67,918.09 719.71,917.65 720.75,921.03 721.79,922.87 722.83,923.62 723.86,923.90 724.90,925.81 725.94,925.65 726.98,924.09 728.01,924.45 729.05,924.64 730.09,924.30 731.12,923.32 732.16,924.19 731.77,922.94 732.37,910.04 732.97,922.94 733.20,922.94 734.24,922.02 735.28,922.83 736.31,922.36 737.35,921.36 738.39,921.14 739.42,921.88 740.46,921.02 741.50,919.63 742.54,920.41 743.58,919.16 744.61,918.33 745.65,918.48 746.69,918.37 747.72,918.21 748.76,917.24 748.67,916.80 749.27,908.38 749.87,916.80 749.80,916.80 750.83,916.22 751.86,915.40 751.43,916.45 752.03,907.15 752.63,916.45 752.89,916.45 753.92,915.69 754.95,917.73 755.98,916.39 757.02,917.03 758.05,917.39 759.08,916.11 760.11,917.74 759.62,916.57 760.22,911.80 760.82,916.57 761.14,916.57 762.17,916.04 763.20,917.34 764.23,916.92 765.26,918.21 766.29,917.13 767.32,916.34 768.35,916.21 769.38,916.30 770.42,917.46 771.45,918.04 772.48,916.51 773.51,917.23 774.54,917.64 775.57,918.70 776.60,918.93 777.64,918.44 778.68,917.61 779.71,917.19 780.75,916.09 781.79,916.76 782.83,915.42 783.86,915.49 784.90,916.49 785.94,915.60 786.98,915.72 788.01,914.83 789.05,914.12 789.40,914.40 790.00,904.00 790.60,914.40 790.09,914.40 791.12,914.30 792.16,913.24 793.20,914.43 794.26,914.75 795.32,912.83 796.38,912.98 797.45,914.35 798.51,914.13 798.96,912.94 799.56,906.82 800.16,912.94 799.57,912.94 800.63,913.81 801.69,912.97 801.87,914.47 802.47,906.36 803.07,914.47 802.75,914.47 803.82,913.81 804.88,913.63 805.94,912.79 807.00,913.37 808.07,913.11 809.14,912.42 809.05,911.56 809.65,905.08 810.25,911.56 810.21,911.56 811.28,911.18 810.70,911.97 811.30,908.87 811.90,911.97 812.35,911.97 813.42,912.08 814.48,911.46 815.55,910.45 816.62,904.67 817.69,908.64 818.76,906.26 819.83,908.93 819.41,906.29 820.01,894.43 820.61,906.29 820.90,906.29 820.93,907.20 821.53,882.14 822.13,907.20 821.90,907.20 822.91,902.90 823.13,907.30 823.73,895.86 824.33,907.30 823.91,907.30 824.92,905.27 824.40,907.57 825.00,900.00 825.60,907.57 825.92,907.57 825.61,902.40 825.49,886.22 826.09,890.82 826.69,886.22 826.21,886.22 826.81,902.40 826.93,902.40 827.93,906.68 828.94,902.11 829.94,907.14 830.95,903.27 831.95,907.35 831.40,905.03 832.00,896.00 831.93,905.03 832.53,894.24 833.13,905.03 832.60,905.03 832.95,905.03 833.96,908.19 834.96,904.67 834.54,907.76 835.14,891.09 835.74,907.76 835.97,907.76 836.97,901.59 837.98,906.93 838.98,901.12 839.99,906.02 839.80,904.41 840.40,896.11 841.00,904.41 840.99,904.41 841.25,906.73 841.85,894.91 842.45,906.73 842.00,906.73 841.40,904.59 842.00,899.00 842.60,904.59 843.00,904.59 842.94,907.42 843.54,890.22 844.14,907.42 844.02,907.42 845.04,902.90 846.07,907.61 847.09,904.11 848.11,906.27 849.13,901.78 850.16,906.84 851.18,903.98 850.70,906.88 851.30,845.90 851.90,906.88 852.20,906.88 853.22,903.47 854.24,907.77 855.27,905.31 856.29,907.13 856.24,904.93 856.84,894.47 857.44,904.93 857.31,904.93 858.33,908.82 859.36,905.91 860.38,907.92 861.40,904.17 862.42,908.94 863.44,903.60 864.47,909.17 865.49,903.61 865.90,908.40 866.50,870.80 867.10,908.40 866.51,908.40 867.53,903.52 868.56,908.35 869.58,907.10 870.60,908.71 870.34,904.12 870.94,880.12 871.54,904.12 871.67,904.12 872.74,908.86 873.81,902.86 874.88,909.16 875.95,902.09 877.02,907.79 878.08,903.96 879.15,907.83 880.22,896.03 880.26,905.66 880.86,872.43 881.46,905.66 881.29,905.66 882.36,897.01 883.43,904.66 883.90,901.24 884.50,839.00 884.14,901.24 884.74,871.15 885.34,901.24 885.10,901.24 884.50,901.24 885.56,905.26 886.62,894.22 887.68,905.08 887.40,893.28 887.27,862.00 887.87,871.99 887.63,862.00 888.23,864.95 888.83,862.00 888.47,862.00 888.00,862.00 888.60,893.28 888.75,893.28 889.81,903.00 890.87,892.79 891.93,904.05 891.58,892.72 892.18,869.78 891.92,892.72 891.78,878.82 892.38,861.95 892.98,878.82 892.52,878.82 892.14,892.72 892.74,863.96 893.34,892.72 893.12,892.72 892.78,892.72 892.99,892.72 894.05,902.42 894.07,895.56 894.67,882.28 895.27,895.56 895.12,895.56 896.18,900.96 896.30,891.92 896.90,796.00 896.32,891.92 896.92,871.52 897.52,891.92 897.50,891.92 897.24,891.92 898.30,902.12 899.36,896.25 900.42,901.84 900.50,889.13 901.10,725.00 901.70,889.13 901.48,889.13 902.55,900.90 903.61,889.60 904.67,900.51 905.73,894.56 905.40,901.33 906.00,878.30 906.60,901.33 906.79,901.33 906.56,889.30 907.16,877.57 907.76,889.30 907.85,889.30 908.92,901.27 909.98,896.49 909.69,902.06 910.29,881.47 910.89,902.06 911.04,902.06 911.32,892.10 911.92,870.33 912.52,892.10 912.10,892.10 913.12,901.83 912.90,895.36 913.50,815.40 914.10,895.36 914.14,895.36 915.16,901.09 914.69,896.77 915.29,881.49 915.89,896.77 916.18,896.77 916.41,900.94 917.01,878.04 917.61,900.94 917.21,900.94 917.35,893.76 917.95,867.55 918.55,893.76 918.23,893.76 919.25,901.54 920.27,891.91 921.29,902.53 922.31,895.00 923.33,902.86 924.35,892.24 925.37,901.85 926.39,896.65 926.20,903.22 926.80,725.00 927.40,903.22 927.42,903.22 928.44,892.50 928.40,901.54 929.00,870.45 929.60,901.54 929.46,901.54 930.48,892.40 930.66,902.36 931.26,867.77 931.86,902.36 931.50,902.36 932.50,894.61 933.51,902.62 934.51,895.91 934.20,901.12 934.80,815.40 935.40,901.12 935.52,901.12 936.52,892.51 937.53,901.88 937.40,896.13 938.00,858.00 937.87,896.13 938.47,872.54 939.07,896.13 938.60,896.13 938.53,896.13 939.54,901.23 940.54,889.85 941.55,899.41 942.55,889.88 943.55,899.79 944.56,888.93 944.18,899.11 944.78,860.52 945.38,899.11 945.56,899.11 945.37,892.03 945.97,867.43 946.57,892.03 946.57,892.03 947.57,898.53 947.40,892.21 948.00,880.47 948.60,892.21 948.58,892.21 949.58,897.93 950.59,886.66 950.30,896.72 950.90,725.00 951.50,896.72 951.59,896.72 952.60,888.47 952.40,896.69 953.00,833.00 953.60,896.69 953.60,896.69 954.64,886.06 954.74,897.13 955.34,858.47 955.94,897.13 955.68,897.13 956.71,881.37 956.94,896.52 957.54,868.01 958.14,896.52 957.75,896.52 958.79,883.92 959.83,896.68 960.86,888.29 960.42,896.28 961.02,864.94 961.62,896.28 961.90,896.28 961.50,878.53 962.10,858.86 962.70,878.53 962.94,878.53 963.98,897.86 964.10,880.25 964.70,826.50 965.30,880.25 965.01,880.25 966.05,896.34 967.09,889.29 967.21,896.21 967.81,862.29 968.41,896.21 968.12,896.21 968.55,887.30 969.15,860.19 969.75,887.30 969.16,887.30 970.20,896.85 971.24,891.12 972.28,896.68 973.31,881.89 973.00,897.34 973.60,823.70 974.20,897.34 974.35,897.34 974.57,888.37 975.17,876.01 975.77,888.37 975.39,888.37 976.42,895.52 977.46,880.16 978.50,896.11 979.54,886.40 978.96,895.50 979.56,865.08 980.16,895.50 980.58,895.50 980.40,886.84 981.00,860.00 981.60,886.84 981.61,886.84 982.65,895.56 983.69,886.83 984.72,895.33 984.40,883.20 985.00,862.00 985.60,883.20 985.76,883.20 986.80,896.33 987.87,885.68 987.65,895.10 988.25,866.47 988.85,895.10 988.94,895.10 990.01,882.92 989.69,895.52 990.29,858.75 990.89,895.52 991.08,895.52 992.15,878.73 991.94,895.38 992.54,874.03 993.14,895.38 993.22,895.38 994.28,886.19 994.43,894.59 995.03,883.12 994.78,894.59 995.38,858.50 995.98,894.59 995.63,894.59 995.35,894.59 996.42,884.14 997.49,893.70 998.56,880.62 998.90,893.26 999.50,846.00 1000.10,893.26 999.63,893.26 1000.70,882.92 1000.59,892.23 1001.19,873.10 1001.18,892.23 1001.78,871.31 1002.38,892.23 1001.79,892.23 1001.70,892.23 1002.71,887.47 1002.30,894.31 1002.90,791.90 1003.50,894.31 1003.71,894.31 1003.12,876.16 1003.72,877.12 1004.32,876.16 1004.72,876.16 1005.72,893.75 1006.73,887.12 1007.73,894.88 1008.74,882.02 1008.40,894.52 1009.00,849.00 1009.60,894.52 1009.74,894.52 1010.75,880.57 1011.75,894.27 1011.16,886.53 1011.76,856.57 1012.36,886.53 1012.75,886.53 1013.76,895.95 1013.57,880.04 1014.17,873.83 1014.77,880.04 1014.76,880.04 1015.77,896.66 1015.40,884.42 1015.30,841.00 1015.90,855.21 1016.50,841.00 1016.00,841.00 1016.60,884.42 1016.10,884.42 1016.70,882.83 1017.30,884.42 1016.77,884.42 1017.78,897.01 1018.78,878.73 1019.79,896.46 1020.79,879.06 1020.40,896.14 1021.00,836.00 1021.60,896.14 1021.80,896.14 1021.40,890.36 1022.00,883.38 1022.60,890.36 1022.80,890.36 1022.28,897.78 1022.88,872.17 1023.48,897.78 1023.83,897.78 1024.85,889.73 1025.88,897.50 1025.80,882.12 1025.41,784.20 1026.01,867.17 1026.61,784.20 1026.40,784.20 1027.00,882.12 1026.90,882.12 1027.93,898.14 1028.96,889.31 1029.98,898.66 1031.01,891.98 1032.03,898.52 1033.06,880.92 1032.58,898.80 1033.18,876.36 1033.78,898.80 1034.09,898.80 1035.11,889.14 1036.14,900.02 1036.40,883.81 1037.00,832.00 1037.60,883.81 1037.16,883.81 1038.19,899.92 1039.21,881.87 1040.24,900.51 1039.96,886.47 1040.56,867.81 1041.16,886.47 1041.27,886.47 1041.60,900.60 1042.20,725.00 1042.80,900.60 1042.29,900.60 1043.32,887.74 1044.34,899.78 1045.37,891.02 1046.40,900.10 1046.22,894.69 1046.82,864.03 1047.42,894.69 1047.42,894.69 1048.45,901.13 1049.47,890.02 1050.50,902.02 1051.50,894.88 1051.45,901.89 1052.05,859.08 1052.65,901.89 1052.51,901.89 1052.00,893.10 1052.60,876.46 1053.20,893.10 1053.51,893.10 1054.52,901.10 1054.40,891.93 1055.00,875.00 1055.60,891.93 1055.52,891.93 1055.79,902.50 1056.39,856.66 1056.99,902.50 1056.53,902.50 1057.53,887.35 1058.54,901.64 1059.54,893.62 1059.50,900.93 1060.10,725.00 1059.68,900.93 1060.28,876.31 1060.88,900.93 1060.70,900.93 1060.55,900.93 1060.90,891.31 1061.50,851.00 1062.10,891.31 1061.55,891.31 1062.55,902.91 1063.56,890.42 1063.25,902.44 1063.05,875.59 1063.65,861.06 1064.25,875.59 1063.85,875.59 1064.45,902.44 1064.56,902.44 1065.57,884.75 1066.57,901.31 1067.58,892.31 1067.40,902.18 1068.00,868.00 1068.60,902.18 1068.58,902.18 1068.30,893.70 1068.90,861.60 1069.50,893.70 1069.59,893.70 1070.59,902.24 1071.60,887.77 1072.60,901.87 1073.62,887.52 1073.40,901.90 1074.00,783.00 1074.60,901.90 1074.64,901.90 1075.66,887.72 1076.68,901.36 1077.71,885.67 1078.73,901.55 1079.75,884.80 1079.40,902.36 1080.00,870.00 1079.55,902.36 1080.15,864.29 1080.75,902.36 1080.60,902.36 1080.77,902.36 1080.52,887.84 1081.12,880.47 1081.72,887.84 1081.79,887.84 1082.81,900.17 1083.83,890.41 1084.85,901.78 1084.41,886.31 1085.01,883.60 1085.61,886.31 1085.24,886.31 1085.84,881.46 1086.44,886.31 1085.87,886.31 1085.80,901.05 1086.40,725.00 1087.00,901.05 1086.89,901.05 1087.92,888.36 1088.94,901.12 1089.96,882.33 1089.40,900.17 1090.00,880.00 1090.60,900.17 1090.98,900.17 1092.00,886.26" fill="none" stroke="#56c6c4" stroke-width="2.2" stroke-linejoin="round" stroke-linecap="butt"/>
</g>
<line x1="143.00" y1="926.70" x2="1094.00" y2="926.70" stroke="#333" stroke-width="3" stroke-dasharray="9.5 3.7"/>
<rect x="143.00" y="728.50" width="951.00" height="594.50" fill="none" stroke="#000" stroke-width="3"/>
<line x1="261.88" y1="1323.00" x2="261.88" y2="1313.00" stroke="#000" stroke-width="3"/>
<line x1="261.88" y1="728.50" x2="261.88" y2="738.50" stroke="#000" stroke-width="3"/>
<line x1="380.76" y1="1323.00" x2="380.76" y2="1313.00" stroke="#000" stroke-width="3"/>
<line x1="380.76" y1="728.50" x2="380.76" y2="738.50" stroke="#000" stroke-width="3"/>
<line x1="499.64" y1="1323.00" x2="499.64" y2="1313.00" stroke="#000" stroke-width="3"/>
<line x1="499.64" y1="728.50" x2="499.64" y2="738.50" stroke="#000" stroke-width="3"/>
<line x1="618.52" y1="1323.00" x2="618.52" y2="1313.00" stroke="#000" stroke-width="3"/>
<line x1="618.52" y1="728.50" x2="618.52" y2="738.50" stroke="#000" stroke-width="3"/>
<line x1="737.40" y1="1323.00" x2="737.40" y2="1313.00" stroke="#000" stroke-width="3"/>
<line x1="737.40" y1="728.50" x2="737.40" y2="738.50" stroke="#000" stroke-width="3"/>
<line x1="856.28" y1="1323.00" x2="856.28" y2="1313.00" stroke="#000" stroke-width="3"/>
<line x1="856.28" y1="728.50" x2="856.28" y2="738.50" stroke="#000" stroke-width="3"/>
<line x1="975.16" y1="1323.00" x2="975.16" y2="1313.00" stroke="#000" stroke-width="3"/>
<line x1="975.16" y1="728.50" x2="975.16" y2="738.50" stroke="#000" stroke-width="3"/>
<line x1="143.00" y1="1263.44" x2="148.50" y2="1263.44" stroke="#000" stroke-width="2.5"/>
<line x1="1094.00" y1="1263.44" x2="1088.50" y2="1263.44" stroke="#000" stroke-width="2.5"/>
<line x1="143.00" y1="1228.53" x2="148.50" y2="1228.53" stroke="#000" stroke-width="2.5"/>
<line x1="1094.00" y1="1228.53" x2="1088.50" y2="1228.53" stroke="#000" stroke-width="2.5"/>
<line x1="143.00" y1="1203.77" x2="148.50" y2="1203.77" stroke="#000" stroke-width="2.5"/>
<line x1="1094.00" y1="1203.77" x2="1088.50" y2="1203.77" stroke="#000" stroke-width="2.5"/>
<line x1="143.00" y1="1184.56" x2="148.50" y2="1184.56" stroke="#000" stroke-width="2.5"/>
<line x1="1094.00" y1="1184.56" x2="1088.50" y2="1184.56" stroke="#000" stroke-width="2.5"/>
<line x1="143.00" y1="1168.87" x2="148.50" y2="1168.87" stroke="#000" stroke-width="2.5"/>
<line x1="1094.00" y1="1168.87" x2="1088.50" y2="1168.87" stroke="#000" stroke-width="2.5"/>
<line x1="143.00" y1="1155.60" x2="148.50" y2="1155.60" stroke="#000" stroke-width="2.5"/>
<line x1="1094.00" y1="1155.60" x2="1088.50" y2="1155.60" stroke="#000" stroke-width="2.5"/>
<line x1="143.00" y1="1144.11" x2="148.50" y2="1144.11" stroke="#000" stroke-width="2.5"/>
<line x1="1094.00" y1="1144.11" x2="1088.50" y2="1144.11" stroke="#000" stroke-width="2.5"/>
<line x1="143.00" y1="1133.97" x2="148.50" y2="1133.97" stroke="#000" stroke-width="2.5"/>
<line x1="1094.00" y1="1133.97" x2="1088.50" y2="1133.97" stroke="#000" stroke-width="2.5"/>
<line x1="143.00" y1="1124.90" x2="153.00" y2="1124.90" stroke="#000" stroke-width="3"/>
<line x1="1094.00" y1="1124.90" x2="1084.00" y2="1124.90" stroke="#000" stroke-width="3"/>
<line x1="143.00" y1="1065.24" x2="148.50" y2="1065.24" stroke="#000" stroke-width="2.5"/>
<line x1="1094.00" y1="1065.24" x2="1088.50" y2="1065.24" stroke="#000" stroke-width="2.5"/>
<line x1="143.00" y1="1030.33" x2="148.50" y2="1030.33" stroke="#000" stroke-width="2.5"/>
<line x1="1094.00" y1="1030.33" x2="1088.50" y2="1030.33" stroke="#000" stroke-width="2.5"/>
<line x1="143.00" y1="1005.57" x2="148.50" y2="1005.57" stroke="#000" stroke-width="2.5"/>
<line x1="1094.00" y1="1005.57" x2="1088.50" y2="1005.57" stroke="#000" stroke-width="2.5"/>
<line x1="143.00" y1="986.36" x2="148.50" y2="986.36" stroke="#000" stroke-width="2.5"/>
<line x1="1094.00" y1="986.36" x2="1088.50" y2="986.36" stroke="#000" stroke-width="2.5"/>
<line x1="143.00" y1="970.67" x2="148.50" y2="970.67" stroke="#000" stroke-width="2.5"/>
<line x1="1094.00" y1="970.67" x2="1088.50" y2="970.67" stroke="#000" stroke-width="2.5"/>
<line x1="143.00" y1="957.40" x2="148.50" y2="957.40" stroke="#000" stroke-width="2.5"/>
<line x1="1094.00" y1="957.40" x2="1088.50" y2="957.40" stroke="#000" stroke-width="2.5"/>
<line x1="143.00" y1="945.91" x2="148.50" y2="945.91" stroke="#000" stroke-width="2.5"/>
<line x1="1094.00" y1="945.91" x2="1088.50" y2="945.91" stroke="#000" stroke-width="2.5"/>
<line x1="143.00" y1="935.77" x2="148.50" y2="935.77" stroke="#000" stroke-width="2.5"/>
<line x1="1094.00" y1="935.77" x2="1088.50" y2="935.77" stroke="#000" stroke-width="2.5"/>
<line x1="143.00" y1="926.70" x2="153.00" y2="926.70" stroke="#000" stroke-width="3"/>
<line x1="1094.00" y1="926.70" x2="1084.00" y2="926.70" stroke="#000" stroke-width="3"/>
<line x1="143.00" y1="867.04" x2="148.50" y2="867.04" stroke="#000" stroke-width="2.5"/>
<line x1="1094.00" y1="867.04" x2="1088.50" y2="867.04" stroke="#000" stroke-width="2.5"/>
<line x1="143.00" y1="832.13" x2="148.50" y2="832.13" stroke="#000" stroke-width="2.5"/>
<line x1="1094.00" y1="832.13" x2="1088.50" y2="832.13" stroke="#000" stroke-width="2.5"/>
<line x1="143.00" y1="807.37" x2="148.50" y2="807.37" stroke="#000" stroke-width="2.5"/>
<line x1="1094.00" y1="807.37" x2="1088.50" y2="807.37" stroke="#000" stroke-width="2.5"/>
<line x1="143.00" y1="788.16" x2="148.50" y2="788.16" stroke="#000" stroke-width="2.5"/>
<line x1="1094.00" y1="788.16" x2="1088.50" y2="788.16" stroke="#000" stroke-width="2.5"/>
<line x1="143.00" y1="772.47" x2="148.50" y2="772.47" stroke="#000" stroke-width="2.5"/>
<line x1="1094.00" y1="772.47" x2="1088.50" y2="772.47" stroke="#000" stroke-width="2.5"/>
<line x1="143.00" y1="759.20" x2="148.50" y2="759.20" stroke="#000" stroke-width="2.5"/>
<line x1="1094.00" y1="759.20" x2="1088.50" y2="759.20" stroke="#000" stroke-width="2.5"/>
<line x1="143.00" y1="747.71" x2="148.50" y2="747.71" stroke="#000" stroke-width="2.5"/>
<line x1="1094.00" y1="747.71" x2="1088.50" y2="747.71" stroke="#000" stroke-width="2.5"/>
<line x1="143.00" y1="737.57" x2="148.50" y2="737.57" stroke="#000" stroke-width="2.5"/>
<line x1="1094.00" y1="737.57" x2="1088.50" y2="737.57" stroke="#000" stroke-width="2.5"/>
<g transform="translate(133.45,1367.33) scale(0.9550,1)"><text x="0.00" y="0.00" font-size="40" xml:space="preserve">0</text></g>
<g transform="translate(242.78,1367.33) scale(0.9550,1)"><text x="0.00" y="0.00" font-size="40" xml:space="preserve">20</text></g>
<g transform="translate(361.66,1367.33) scale(0.9550,1)"><text x="0.00" y="0.00" font-size="40" xml:space="preserve">40</text></g>
<g transform="translate(480.54,1367.33) scale(0.9550,1)"><text x="0.00" y="0.00" font-size="40" xml:space="preserve">60</text></g>
<g transform="translate(599.42,1367.33) scale(0.9550,1)"><text x="0.00" y="0.00" font-size="40" xml:space="preserve">80</text></g>
<g transform="translate(708.75,1367.33) scale(0.9550,1)"><text x="0.00" y="0.00" font-size="40" xml:space="preserve">100</text></g>
<g transform="translate(827.63,1367.33) scale(0.9550,1)"><text x="0.00" y="0.00" font-size="40" xml:space="preserve">120</text></g>
<g transform="translate(946.51,1367.33) scale(0.9550,1)"><text x="0.00" y="0.00" font-size="40" xml:space="preserve">140</text></g>
<g transform="translate(1065.39,1367.33) scale(0.9550,1)"><text x="0.00" y="0.00" font-size="40" xml:space="preserve">160</text></g>
<g transform="translate(79.30,742.23) scale(0.8550,1)"><text x="0.00" y="0.00" font-size="40" xml:space="preserve">10</text></g>
<g transform="translate(114.50,728.60) scale(0.9550,1)"><text x="0.00" y="0.00" font-size="28" xml:space="preserve">2</text></g>
<g transform="translate(79.70,940.83) scale(0.7900,1)"><text x="0.00" y="0.00" font-size="40" xml:space="preserve">10</text></g>
<g transform="translate(115.60,926.75) scale(0.9550,1)"><text x="0.00" y="0.00" font-size="28" xml:space="preserve">1</text></g>
<g transform="translate(80.30,1141.78) scale(0.7925,1)"><text x="0.00" y="0.00" font-size="40" xml:space="preserve">10</text></g>
<g transform="translate(114.40,1126.34) scale(0.9550,1)"><text x="0.00" y="0.00" font-size="28" xml:space="preserve">0</text></g>
<g transform="translate(57.40,1336.72) scale(0.8225,1)"><text x="0.00" y="0.00" font-size="40" xml:space="preserve">10</text></g>
<g transform="translate(94.00,1323.10) scale(0.9550,1)"><text x="0.00" y="0.00" font-size="28" xml:space="preserve">−1</text></g>
<g transform="translate(504.00,1409.70) scale(1.0230,1)"><text x="0.00" y="0.00" font-size="40" font-style="italic" xml:space="preserve">t</text><text x="11.11" y="0.00" font-size="40" xml:space="preserve"> - </text><text x="44.43" y="0.00" font-size="40" font-style="italic" xml:space="preserve">t</text><text x="55.55" y="7.00" font-size="28" xml:space="preserve">merger</text><text x="138.32" y="0.00" font-size="40" xml:space="preserve"> (ms)</text></g>
<g transform="translate(28.50,1024.00) rotate(-90) translate(-63.25,5.62) scale(1.0069,1)"><path d="M11.0,-30 L0,-10.0 L11.0,10 M98.9,-30 L109.9,-10.0 L98.9,10" fill="none" stroke="#333" stroke-width="1.6"/><text x="15.00" y="0.00" font-size="40" font-style="italic" xml:space="preserve">Q</text><text x="43.89" y="6.00" font-size="27" xml:space="preserve">MRI</text><text x="112.64" y="13.00" font-size="27" font-style="italic" xml:space="preserve">ρ</text></g>
<line x1="543.60" y1="952.80" x2="613.40" y2="952.80" stroke="#5252d8" stroke-width="3.5"/>
<line x1="543.60" y1="999.90" x2="613.40" y2="999.90" stroke="#5a9e5e" stroke-width="2.6"/>
<line x1="543.60" y1="1045.90" x2="613.40" y2="1045.90" stroke="#56c6c4" stroke-width="2.6"/>
<line x1="543.60" y1="1091.60" x2="613.40" y2="1091.60" stroke="#9e4ea8" stroke-width="2.6"/>
<g transform="translate(640.70,965.30) scale(0.9995,1)"><text x="0.00" y="0.00" font-size="29.5" xml:space="preserve">12.5</text></g>
<g transform="translate(700.40,965.30) scale(1.0864,1)"><text x="0.00" y="0.00" font-size="29.5" xml:space="preserve">m,</text></g>
<g transform="translate(746.80,965.30) scale(1.0693,1)"><text x="0.00" y="0.00" font-size="29.5" font-style="italic" xml:space="preserve">ρ</text><text x="14.16" y="5.00" font-size="21" xml:space="preserve">13</text></g>
<path d="M816.6,945.7 L797.8,954.2 L816.6,962.9 M797.8,969.2 L816.6,969.2" fill="none" stroke="#333" stroke-width="2.00" stroke-linejoin="miter"/>
<g transform="translate(831.67,965.30) scale(1.0286,1)"><text x="0.00" y="0.00" font-size="29.5" font-style="italic" xml:space="preserve">ρ</text></g>
<path d="M877.0,945.7 L858.3,954.2 L877.0,962.9 M858.3,969.2 L877.0,969.2" fill="none" stroke="#333" stroke-width="2.00" stroke-linejoin="miter"/>
<g transform="translate(891.30,965.30) scale(1.0647,1)"><text x="0.00" y="0.00" font-size="29.5" font-style="italic" xml:space="preserve">ρ</text><text x="14.16" y="5.00" font-size="21" xml:space="preserve">14.5</text></g>
<g transform="translate(640.70,1011.50) scale(0.9860,1)"><text x="0.00" y="0.00" font-size="29.5" xml:space="preserve">12.5</text></g>
<g transform="translate(703.40,1011.50) scale(1.0130,1)"><text x="0.00" y="0.00" font-size="29.5" xml:space="preserve">m</text></g>
<path d="M737.4,1003.0 L766.8,1003.0 M759.5,995.5 Q764.0,1001.5 767.8,1003.0 Q764.0,1004.5 759.5,1010.5" fill="none" stroke="#333" stroke-width="1.70"/>
<g transform="translate(780.40,1011.50) scale(0.8475,1)"><text x="0.00" y="0.00" font-size="29.5" xml:space="preserve">50</text></g>
<g transform="translate(818.00,1011.50) scale(1.0601,1)"><text x="0.00" y="0.00" font-size="29.5" xml:space="preserve">m,</text></g>
<g transform="translate(865.32,1011.50) scale(1.0972,1)"><text x="0.00" y="0.00" font-size="29.5" font-style="italic" xml:space="preserve">ρ</text><text x="14.16" y="5.00" font-size="21" xml:space="preserve">13</text></g>
<path d="M936.1,991.9 L916.4,1000.4 L936.1,1009.1 M916.4,1015.4 L936.1,1015.4" fill="none" stroke="#333" stroke-width="2.00" stroke-linejoin="miter"/>
<g transform="translate(947.71,1011.50) scale(1.0824,1)"><text x="0.00" y="0.00" font-size="29.5" font-style="italic" xml:space="preserve">ρ</text></g>
<path d="M995.2,991.9 L975.5,1000.4 L995.2,1009.1 M975.5,1015.4 L995.2,1015.4" fill="none" stroke="#333" stroke-width="2.00" stroke-linejoin="miter"/>
<g transform="translate(1008.53,1011.50) scale(1.1092,1)"><text x="0.00" y="0.00" font-size="29.5" font-style="italic" xml:space="preserve">ρ</text><text x="14.16" y="5.00" font-size="21" xml:space="preserve">14.5</text></g>
<g transform="translate(640.00,1057.50) scale(0.8746,1)"><text x="0.00" y="0.00" font-size="29.5" xml:space="preserve">50</text></g>
<g transform="translate(678.30,1057.50) scale(1.0913,1)"><text x="0.00" y="0.00" font-size="29.5" xml:space="preserve">m</text></g>
<path d="M715.9,1049.0 L745.4,1049.0 M738.1,1041.5 Q742.6,1047.5 746.4,1049.0 Q742.6,1050.5 738.1,1056.5" fill="none" stroke="#333" stroke-width="1.70"/>
<g transform="translate(758.90,1057.50) scale(0.8904,1)"><text x="0.00" y="0.00" font-size="29.5" xml:space="preserve">100</text></g>
<g transform="translate(809.00,1057.50) scale(1.0601,1)"><text x="0.00" y="0.00" font-size="29.5" xml:space="preserve">m,</text></g>
<g transform="translate(856.42,1057.50) scale(1.0972,1)"><text x="0.00" y="0.00" font-size="29.5" font-style="italic" xml:space="preserve">ρ</text><text x="14.16" y="5.00" font-size="21" xml:space="preserve">13</text></g>
<path d="M927.2,1037.9 L907.5,1046.4 L927.2,1055.1 M907.5,1061.4 L927.2,1061.4" fill="none" stroke="#333" stroke-width="2.00" stroke-linejoin="miter"/>
<g transform="translate(938.71,1057.50) scale(1.0824,1)"><text x="0.00" y="0.00" font-size="29.5" font-style="italic" xml:space="preserve">ρ</text></g>
<path d="M986.2,1037.9 L966.6,1046.4 L986.2,1055.1 M966.6,1061.4 L986.2,1061.4" fill="none" stroke="#333" stroke-width="2.00" stroke-linejoin="miter"/>
<g transform="translate(999.63,1057.50) scale(1.1072,1)"><text x="0.00" y="0.00" font-size="29.5" font-style="italic" xml:space="preserve">ρ</text><text x="14.16" y="5.00" font-size="21" xml:space="preserve">14.5</text></g>
<g transform="translate(639.20,1103.50) scale(1.1254,1)"><text x="0.00" y="0.00" font-size="29.5" xml:space="preserve">200</text></g>
<g transform="translate(694.00,1103.50) scale(0.9826,1)"><text x="0.00" y="0.00" font-size="29.5" xml:space="preserve">m</text></g>
<g clip-path="url(#clip3)">
<polyline points="156.00,2033.37 156.60,2022.00 157.20,2033.37 183.40,2033.37 184.00,2012.00 184.60,2033.37 189.40,2033.37 190.00,1924.70 190.60,2033.37 190.00,2033.37 192.67,2034.11 195.33,2033.69 198.00,2034.25 200.67,2034.30 203.33,2032.96 206.00,2032.83 206.80,2034.81 207.40,2025.00 208.00,2034.81 208.67,2034.81 211.33,2033.42 214.00,2033.36 215.20,2032.19 217.80,2027.56 220.40,2025.07 220.40,2020.84 221.00,1931.00 221.60,2020.84 221.62,2020.84 222.22,2017.64 222.82,2020.84 223.00,2020.84 226.27,2017.93 229.53,2013.46 232.11,2011.32 232.71,2006.06 233.31,2011.32 232.80,2011.32 236.80,2007.88 237.50,2004.91 238.10,1995.50 238.70,2004.91 239.45,2004.91 242.10,2003.28 244.75,2000.96 247.40,1997.35 250.60,1993.82 255.20,1986.92 258.40,1984.52 259.00,1964.00 259.60,1984.52 259.00,1984.52 261.75,1984.20 264.50,1986.53 267.25,1985.91 270.00,1986.83 272.77,1987.66 275.53,1987.71 275.90,1988.66 276.50,1987.00 277.10,1988.66 278.30,1988.66 278.71,1987.85 279.31,1979.06 279.91,1987.85 280.18,1987.85 280.78,1983.31 281.38,1987.85 281.07,1987.85 283.83,1989.27 286.60,1988.87 289.36,1988.95 292.12,1987.71 294.88,1984.73 297.64,1983.73 299.40,1982.82 300.00,1952.00 300.60,1982.82 300.40,1982.82 303.18,1982.70 305.96,1979.51 308.74,1978.04 311.52,1975.34 314.30,1973.92 317.06,1971.97 319.82,1970.22 321.39,1969.12 321.99,1965.25 322.59,1969.12 322.58,1969.12 325.34,1967.46 328.10,1966.57 330.88,1964.99 333.65,1964.53 336.43,1963.31 339.20,1962.58 341.96,1961.37 344.72,1959.71 347.48,1960.95 348.44,1960.76 349.04,1952.46 349.64,1960.76 350.24,1960.76 353.00,1960.17 355.76,1959.53 358.52,1960.03 361.28,1958.99 364.04,1960.64 366.80,1960.18 370.03,1960.42 373.27,1960.82 372.90,1963.65 373.50,1915.80 374.10,1963.65 376.50,1963.65 379.95,1961.23 381.90,1956.31 382.50,1944.80 383.10,1956.31 383.40,1956.31 386.17,1956.15 388.93,1953.35 391.70,1950.86 394.48,1951.33 397.26,1952.59 400.04,1952.95 402.82,1951.09 404.59,1952.57 405.19,1946.41 405.79,1952.57 405.60,1952.57 408.36,1951.65 411.12,1953.70 411.75,1953.21 412.35,1947.48 412.95,1953.21 413.88,1953.21 416.64,1954.97 419.40,1955.65 422.17,1955.54 422.90,1957.75 423.50,1955.00 424.10,1957.75 424.95,1957.75 427.73,1957.12 427.83,1957.58 428.43,1954.52 429.03,1957.58 430.50,1957.58 433.25,1959.54 436.00,1958.88 438.75,1959.97 441.50,1961.18 444.26,1959.73 443.68,1956.69 444.28,1950.54 444.88,1956.69 447.02,1956.69 449.78,1954.48 452.54,1954.52 455.30,1951.25 458.07,1953.50 460.85,1954.05 463.62,1953.51 466.40,1954.40 468.95,1952.97 469.80,1951.70 470.40,1941.47 471.00,1951.70 471.50,1951.70 474.05,1950.00 473.66,1948.34 474.26,1939.71 474.86,1948.34 476.60,1948.34 479.38,1946.76 482.15,1945.81 484.93,1943.04 484.71,1941.13 485.31,1930.64 485.01,1941.13 485.61,1923.68 486.21,1941.13 485.91,1941.13 487.70,1941.13 488.75,1940.80 489.35,1923.42 489.95,1940.80 490.45,1940.80 490.02,1938.62 490.62,1924.87 491.22,1938.62 493.20,1938.62 492.76,1937.75 493.36,1933.63 493.10,1937.75 493.70,1892.90 494.30,1937.75 493.96,1937.75 495.95,1937.75 496.40,1938.35 497.00,1920.94 497.60,1938.35 498.70,1938.35 498.49,1937.93 499.09,1931.67 499.69,1937.93 501.23,1937.93 503.77,1938.68 506.30,1938.08 508.83,1939.73 510.40,1940.81 511.00,1920.00 511.60,1940.81 511.37,1940.81 512.27,1940.15 512.87,1928.75 513.47,1940.15 513.90,1940.15 516.40,1939.92 518.90,1938.30 520.60,1935.26 521.20,1925.97 521.80,1935.26 521.40,1935.26 523.90,1934.97 526.40,1932.92 526.04,1934.27 526.64,1919.79 527.24,1934.27 529.16,1934.27 530.80,1934.33 531.40,1902.60 532.00,1934.33 531.92,1934.33 531.59,1936.02 532.19,1928.03 532.79,1936.02 532.54,1936.02 533.14,1926.51 533.74,1936.02 534.68,1936.02 537.44,1936.93 538.40,1936.05 539.00,1908.00 539.60,1936.05 540.20,1936.05 542.00,1934.53 542.60,1919.85 542.57,1934.53 543.17,1929.43 543.77,1934.53 543.20,1934.53 542.97,1934.53 545.73,1934.39 546.40,1933.46 547.00,1905.00 547.60,1933.46 548.50,1933.46 548.77,1930.14 549.37,1919.65 549.97,1930.14 551.27,1930.14 554.03,1929.01 556.80,1927.72 559.56,1925.97 562.32,1924.97 563.75,1923.75 564.35,1908.05 564.95,1923.75 565.08,1923.75 566.93,1922.79 567.53,1915.09 568.13,1922.79 567.84,1922.79 568.62,1922.23 569.22,1914.07 568.70,1922.23 569.30,1899.80 569.90,1922.23 569.82,1922.23 570.60,1922.23 570.38,1921.52 570.98,1909.31 571.58,1921.52 572.78,1921.52 573.38,1913.98 573.98,1921.52 573.38,1921.52 573.40,1921.71 574.00,1879.00 574.60,1921.71 576.16,1921.71 577.64,1922.65 578.24,1913.48 578.84,1922.65 578.94,1922.65 578.78,1920.86 579.38,1907.76 579.98,1920.86 581.72,1920.86 584.50,1922.17 584.80,1919.76 585.40,1902.78 586.00,1919.76 585.90,1919.76 586.50,1893.00 587.10,1919.76 587.27,1919.76 587.77,1915.94 588.40,1915.94 589.00,1906.92 589.60,1915.94 590.03,1915.94 590.53,1912.05 590.50,1912.93 591.10,1896.91 590.80,1912.93 591.40,1863.80 592.00,1912.93 591.70,1912.93 592.80,1912.93 593.30,1902.01 594.10,1897.73 594.70,1885.87 594.40,1897.73 595.00,1743.50 595.60,1897.73 595.30,1897.73 595.50,1897.73 596.00,1893.12 598.27,1893.61 598.77,1890.39 600.40,1890.72 601.00,1870.00 601.60,1890.72 601.03,1890.72 601.53,1880.14 603.80,1888.54 604.30,1884.45 606.57,1888.28 607.07,1877.68 609.33,1885.94 609.83,1876.88 610.20,1885.57 610.80,1836.20 611.40,1885.57 612.10,1885.57 612.60,1875.05 614.88,1889.40 614.40,1877.83 615.00,1862.00 615.60,1877.83 615.38,1877.83 617.65,1894.40 618.15,1886.19 620.43,1897.25 620.93,1887.06 623.20,1902.05 623.70,1898.73 625.96,1898.47 626.46,1888.56 628.72,1896.93 629.22,1889.33 631.48,1895.74 631.98,1886.30 634.24,1894.36 634.74,1890.40 637.00,1891.38 637.50,1881.64 637.00,1889.69 637.60,1859.70 638.20,1889.69 639.77,1889.69 640.27,1878.28 642.53,1888.29 643.03,1884.74 644.40,1888.12 645.00,1865.00 645.60,1888.12 645.30,1888.12 645.80,1882.20 648.07,1886.16 648.57,1878.08 650.83,1886.49 653.60,1885.41 656.38,1882.46 659.16,1881.31 659.60,1881.20 660.20,1876.49 660.80,1881.20 661.94,1881.20 664.72,1879.42 667.50,1878.44 670.26,1877.33 673.01,1876.81 674.34,1877.20 674.94,1866.38 675.54,1877.20 675.77,1877.20 675.75,1878.41 676.35,1866.45 676.95,1878.41 678.53,1878.41 681.29,1877.15 684.04,1877.33 686.80,1877.50 689.57,1876.27 692.33,1875.02 695.10,1875.01 697.87,1871.94 700.63,1870.34 703.40,1871.36 706.17,1869.98 708.93,1869.00 711.70,1866.44 714.48,1868.78 717.26,1869.83 718.06,1869.23 718.66,1863.82 719.26,1869.23 720.04,1869.23 722.82,1871.59 725.60,1872.91 728.35,1873.89 731.10,1874.95 733.85,1875.79 733.77,1877.32 734.37,1867.09 734.97,1877.32 736.60,1877.32 737.40,1874.27 738.00,1865.00 738.60,1874.27 739.38,1874.27 742.15,1871.11 744.93,1869.59 747.70,1866.09 750.48,1863.89 753.25,1858.61 756.02,1857.22 758.80,1853.26 758.40,1853.35 759.00,1845.00 759.60,1853.35 761.57,1853.35 764.33,1852.82 765.91,1852.36 766.51,1846.57 767.11,1852.36 767.10,1852.36 769.87,1851.12 772.63,1849.30 775.40,1850.59 777.40,1846.45 778.00,1843.00 778.60,1846.45 778.16,1846.45 780.92,1844.00 781.11,1842.11 781.71,1834.31 782.31,1842.11 781.72,1842.11 782.32,1830.74 782.92,1842.11 783.68,1842.11 786.44,1839.02 789.20,1835.99 790.40,1836.45 792.11,1834.63 792.71,1828.25 793.31,1834.63 793.00,1834.63 795.60,1832.94 798.20,1831.69 800.80,1832.11 803.40,1830.15 804.07,1829.58 804.67,1816.67 805.27,1829.58 806.02,1829.58 808.65,1827.24 811.27,1825.57 813.90,1825.08 816.50,1826.74 819.10,1826.16 820.90,1828.63 821.50,1820.38 822.10,1828.63 821.70,1828.63 824.30,1829.91 826.90,1828.07 829.50,1826.56 832.10,1823.04 834.70,1822.97 837.30,1821.97 837.88,1816.77 838.48,1811.49 839.08,1816.77 840.55,1816.77 843.80,1814.05 844.00,1810.14 844.60,1775.50 845.20,1810.14 847.05,1810.14 850.30,1806.87 852.90,1805.84 854.40,1805.17 855.00,1800.00 855.60,1805.17 855.50,1805.17 858.10,1805.12 858.56,1802.48 859.16,1793.41 859.76,1802.48 860.70,1802.48 860.87,1801.83 861.47,1793.85 862.07,1801.83 863.30,1801.83 865.92,1800.17 868.54,1798.34 871.16,1796.37 873.78,1796.72 876.40,1794.60 879.00,1788.41 881.60,1785.06 884.20,1780.26 886.80,1773.75 889.40,1777.74 892.00,1782.35 894.60,1786.11 897.85,1790.12 897.90,1794.26 898.50,1743.00 899.10,1794.26 901.10,1794.26 904.02,1794.94 906.95,1794.80 909.07,1796.18 909.67,1785.94 910.27,1796.18 909.88,1796.18 912.80,1796.92 915.40,1796.89 918.00,1796.95 920.60,1797.97 922.28,1799.22 922.88,1786.49 923.48,1799.22 923.20,1799.22 925.80,1800.55 928.41,1800.33 931.02,1798.71 933.64,1799.07 936.25,1798.00 938.83,1793.64 941.42,1789.59 944.00,1785.99 944.67,1784.39 945.27,1777.60 945.87,1784.39 946.60,1784.39 949.20,1781.61 951.80,1780.17 954.40,1777.51 957.00,1774.89 957.40,1780.14 958.00,1772.00 958.60,1780.14 960.30,1780.14 963.60,1785.07 966.20,1781.95 968.80,1781.17 971.40,1779.55 974.00,1779.01 973.90,1777.20 974.50,1762.50 975.10,1777.20 976.92,1777.20 979.85,1773.90 982.78,1773.20 982.33,1771.00 982.93,1766.68 983.53,1771.00 985.00,1771.00 985.60,1761.95 986.20,1771.00 985.70,1771.00 988.30,1769.30 990.90,1769.35 990.91,1768.10 991.51,1756.71 992.11,1768.10 993.50,1768.10 996.10,1758.05 999.35,1752.49 1002.60,1747.83 1005.90,1748.25 1005.40,1748.60 1006.00,1745.00 1006.60,1748.60 1009.20,1748.60 1011.20,1751.36 1011.80,1714.30 1012.40,1751.36 1012.45,1751.36 1014.74,1753.55 1015.34,1743.80 1015.94,1753.55 1015.70,1753.55 1018.30,1754.61 1020.30,1757.94 1020.90,1730.00 1021.50,1757.94 1020.90,1757.94 1023.50,1758.71 1026.10,1759.04 1027.44,1760.56 1028.04,1752.42 1028.64,1760.56 1028.70,1760.56 1031.30,1758.81" fill="none" stroke="#9e4ea8" stroke-width="2.6" stroke-linejoin="round" stroke-linecap="butt"/>
<polyline points="156.00,2033.52 156.60,2021.90 157.20,2033.52 165.40,2033.52 166.70,2002.49 168.00,1993.82 169.30,1963.75 170.75,1962.69 171.20,1934.22 171.80,1907.50 172.40,1934.22 172.20,1934.22 173.42,1943.58 174.65,1925.19 175.88,1931.08 177.10,1912.85 178.28,1921.87 178.50,1909.25 179.10,1871.50 179.70,1909.25 179.46,1909.25 180.64,1916.00 181.82,1895.24 183.00,1909.86 184.00,1892.42 185.00,1905.74 186.00,1889.21 186.30,1902.98 186.90,1864.60 187.50,1902.98 187.00,1902.98 188.00,1885.65 189.00,1898.88 190.00,1883.65 191.00,1895.93 192.00,1877.32 193.00,1892.54 194.00,1881.94 195.00,1890.90 194.60,1871.95 195.20,1857.70 195.80,1871.95 196.00,1871.95 197.00,1887.93 198.00,1873.61 198.40,1885.65 199.00,1860.70 199.60,1885.65 199.00,1885.65 200.00,1873.33 201.00,1882.03 202.00,1870.01 203.00,1879.34 204.00,1865.77 205.00,1875.57 206.00,1859.18 207.00,1873.53 208.00,1859.54 209.00,1869.93 210.00,1855.28 211.00,1867.32 212.00,1851.24 213.00,1863.88 213.40,1852.04 214.00,1845.00 214.60,1852.04 214.00,1852.04 215.00,1860.99 216.00,1856.06 217.00,1859.06 217.40,1854.48 218.00,1827.20 218.60,1854.48 218.00,1854.48 219.00,1856.88 220.00,1852.23 221.00,1855.74 222.00,1850.97 223.00,1854.29 224.00,1848.43 225.00,1852.40 226.00,1847.21 227.00,1851.53 228.00,1844.90 229.00,1849.83 230.00,1844.67 231.00,1848.83 232.00,1842.28 233.00,1847.07 234.00,1841.40 235.01,1846.96 235.40,1841.45 236.00,1838.00 236.60,1841.45 236.02,1841.45 237.03,1845.05 238.04,1841.40 239.05,1845.08 240.05,1839.34 241.06,1844.72 242.07,1838.06 243.08,1842.83 244.09,1839.30 244.40,1842.11 245.00,1835.00 245.60,1842.11 245.10,1842.11 246.11,1839.06 247.12,1843.06 248.13,1837.28 249.14,1843.61 250.15,1839.33 251.15,1843.79 252.16,1839.39 253.17,1843.32 254.18,1838.38 254.20,1843.02 254.80,1821.70 255.40,1843.02 255.19,1843.02 256.20,1840.52 257.20,1844.09 258.20,1839.43 259.20,1842.83 260.20,1838.08 261.20,1842.85 261.40,1839.31 262.00,1835.00 262.60,1839.31 262.20,1839.31 263.20,1841.82 264.20,1837.53 265.20,1841.57 266.20,1837.72 267.20,1841.24 268.24,1835.15 269.27,1840.75 270.31,1836.20 271.35,1840.14 272.39,1836.84 273.43,1840.84 274.46,1837.15 274.40,1841.02 275.00,1834.00 275.60,1841.02 275.50,1841.02 276.54,1834.59 277.57,1839.58 278.61,1834.31 279.65,1839.85 280.69,1834.65 281.73,1840.29 282.76,1835.90 282.40,1839.98 283.00,1832.00 283.60,1839.98 283.80,1839.98 284.81,1833.48 285.82,1837.68 286.83,1832.14 287.84,1835.09 288.85,1827.54 289.85,1832.45 290.86,1828.61 291.87,1829.04 292.88,1826.17 293.89,1826.92 294.90,1823.32 295.91,1825.30 296.92,1821.79 297.93,1822.75 298.94,1819.90 299.95,1821.70 300.95,1818.84 301.96,1820.35 302.97,1816.36 303.98,1817.36 304.99,1814.18 306.00,1815.63 307.04,1814.20 308.07,1816.55 309.11,1813.80 310.15,1816.29 311.19,1813.73 312.23,1816.13 313.26,1814.23 314.30,1815.68 315.34,1815.28 316.38,1817.92 317.41,1815.63 318.45,1819.02 319.49,1817.03 320.53,1820.10 321.56,1819.11 322.60,1821.51 323.75,1819.72 324.90,1822.63 326.05,1821.94 327.20,1824.63 328.35,1823.21 329.50,1826.47" fill="none" stroke="#5252d8" stroke-width="2.4" stroke-linejoin="round" stroke-linecap="butt"/>
<polyline points="329.50,1826.43 330.58,1823.34 331.66,1825.66 332.73,1821.49 333.81,1824.24 334.89,1820.23 335.97,1822.75 337.04,1820.27 338.12,1821.61 339.20,1819.47 340.20,1821.65 341.20,1817.25 342.20,1819.70 343.20,1817.32 344.20,1819.07 343.80,1815.21 344.40,1789.90 345.00,1815.21 345.20,1815.21 346.20,1818.71 347.20,1814.20 348.20,1817.35 349.20,1814.41 350.20,1816.04 351.28,1814.27 352.36,1817.16 353.43,1814.43 353.80,1817.55 354.40,1796.80 355.00,1817.55 354.51,1817.55 355.59,1815.98 356.67,1819.38 357.74,1817.33 358.82,1820.33 359.90,1816.52 360.98,1819.94 362.06,1815.38 363.13,1817.15 364.21,1812.82 365.29,1815.12 366.37,1809.88 367.44,1813.05 368.52,1809.08 369.60,1811.18 370.64,1806.18 371.68,1807.86 372.71,1802.80 373.75,1804.00 374.79,1799.81 375.82,1802.16 376.86,1797.47 377.90,1799.04 379.20,1789.76 380.50,1793.18 381.80,1784.12 382.10,1790.26 382.70,1700.80 383.30,1790.26 382.82,1790.26 383.85,1784.25 384.88,1791.23 384.40,1784.50 385.00,1760.00 385.60,1784.50 385.90,1784.50 386.93,1791.11 386.60,1782.18 387.20,1598.20 387.80,1782.18 387.95,1782.18 388.98,1791.63 388.60,1785.89 389.20,1654.40 389.80,1785.89 390.00,1785.89 390.40,1791.03 391.00,1740.00 391.60,1791.03 391.04,1791.03 392.07,1782.82 393.11,1788.97 394.15,1783.13 393.90,1788.39 394.50,1701.60 395.10,1788.39 395.18,1788.39 396.22,1783.53 397.25,1788.01 397.40,1778.82 398.00,1755.00 398.60,1778.82 398.29,1778.82 399.33,1786.79 400.36,1778.22 401.40,1786.51 402.48,1780.83 403.57,1786.24 404.65,1778.19 404.40,1785.82 405.00,1760.00 405.60,1785.82 405.73,1785.82 406.82,1777.14 407.90,1784.98 408.10,1779.62 408.70,1648.70 409.30,1779.62 408.98,1779.62 409.40,1787.22 410.00,1740.00 410.60,1787.22 410.07,1787.22 411.15,1779.11 412.23,1789.45 413.32,1783.47 414.40,1791.41 415.48,1783.25 416.57,1788.24 417.65,1783.11 418.73,1786.06 419.82,1780.27 419.50,1784.06 420.10,1745.50 420.70,1784.06 420.90,1784.06 421.94,1778.15 422.97,1785.50 424.01,1778.55 425.05,1785.64 426.08,1778.63 425.50,1786.03 426.10,1757.70 426.70,1786.03 427.12,1786.03 428.15,1780.05 429.19,1787.34 430.23,1780.91 431.26,1787.00 432.30,1779.25 432.40,1787.80 433.00,1752.00 433.60,1787.80 433.38,1787.80 434.46,1780.94 435.53,1786.53 435.30,1779.50 435.90,1738.20 436.50,1779.50 436.61,1779.50 437.69,1786.18 438.77,1780.16 439.84,1784.52 440.92,1779.52 442.00,1785.05 443.00,1778.13 444.00,1781.90 445.00,1775.26 446.00,1778.85 447.00,1772.73 448.05,1776.67 449.10,1770.39 450.15,1773.72 451.20,1768.30" fill="none" stroke="#5a9e5e" stroke-width="2.4" stroke-linejoin="round" stroke-linecap="butt"/>
<polyline points="451.20,1772.77 452.30,1765.93 453.40,1769.77 454.50,1764.97 454.40,1767.57 455.00,1736.60 455.60,1767.57 455.60,1767.57 456.70,1760.61 457.80,1765.15 458.90,1759.21 459.40,1761.85 460.00,1717.00 460.60,1761.85 460.00,1761.85 461.08,1755.30 462.17,1759.01 463.25,1750.79 464.33,1757.08 465.42,1752.04 466.50,1755.26 467.58,1749.27 468.67,1752.76 469.75,1745.81 470.83,1749.23 471.92,1744.26 473.00,1747.46 474.07,1738.30 475.13,1740.16 476.20,1730.14 477.28,1735.69 478.37,1728.80 479.45,1732.60 480.53,1721.87 481.62,1731.50 482.70,1716.97 483.78,1727.18 484.87,1716.12 485.95,1722.59 487.03,1703.98 488.12,1717.31 489.20,1706.57 488.70,1701.55 489.30,1547.40 489.90,1701.55 490.35,1701.55 491.50,1681.28 492.62,1690.72 493.75,1684.21 494.88,1693.04 496.00,1681.77 497.03,1697.44 498.07,1688.99 499.10,1701.16 500.13,1690.38 499.67,1704.49 500.27,1675.70 500.87,1704.49 501.17,1704.49 501.10,1690.46 501.70,1440.00 502.30,1690.46 502.20,1690.46 503.28,1706.50 504.36,1697.53 505.44,1705.49 505.70,1692.94 506.30,1625.30 506.90,1692.94 506.52,1692.94 506.90,1706.51 507.50,1669.18 508.10,1706.51 507.60,1706.51 508.68,1697.10 509.76,1705.47 510.84,1691.00 511.92,1705.18 513.00,1694.68 514.07,1706.88 514.44,1695.06 515.04,1679.32 515.64,1695.06 515.14,1695.06 516.21,1710.54 517.28,1701.80 517.70,1712.93 518.30,1652.10 518.90,1712.93 518.35,1712.93 519.42,1700.03 520.49,1715.79 520.34,1704.17 520.94,1673.08 521.54,1704.17 521.56,1704.17 522.63,1718.63 523.70,1708.40 524.71,1718.99 525.71,1709.13 526.72,1719.24 526.30,1706.78 526.90,1660.20 527.50,1706.78 527.73,1706.78 528.73,1718.09 529.74,1708.93 529.18,1718.47 529.78,1678.48 529.35,1718.47 529.95,1684.07 530.55,1718.47 530.38,1718.47 530.74,1718.47 531.75,1705.10 532.76,1718.12 533.76,1706.52 534.77,1717.42 534.51,1708.04 535.11,1650.07 535.71,1708.04 535.77,1708.04 535.92,1717.44 536.52,1665.31 537.12,1717.44 536.78,1717.44 537.79,1708.75 538.79,1716.72 539.80,1702.53 540.81,1717.13 541.81,1708.32 542.82,1716.93 543.20,1702.85 542.97,1601.10 543.57,1689.44 544.17,1601.10 543.80,1601.10 544.40,1702.85 543.82,1702.85 544.83,1718.08 544.74,1703.07 545.34,1679.29 545.94,1703.07 545.84,1703.07 546.84,1718.95 546.46,1707.00 547.06,1649.71 547.66,1707.00 547.85,1707.00 548.86,1719.49 549.86,1705.24 549.92,1719.08 550.52,1652.98 551.12,1719.08 550.87,1719.08 551.88,1708.64 552.88,1719.17 553.89,1708.91 554.89,1721.08 555.90,1711.76 556.91,1720.96 557.91,1712.22 558.92,1720.68 558.40,1708.41 559.00,1668.73 559.60,1708.41 559.92,1708.41 560.93,1721.44 561.94,1713.71 562.94,1721.79 563.95,1709.44 563.90,1722.99 564.50,1680.30 565.10,1722.99 564.96,1722.99 565.96,1715.01 566.97,1722.92 567.98,1707.86 568.98,1723.40 569.99,1711.60 570.99,1724.22 572.00,1710.35 573.04,1724.92 574.09,1710.59 575.13,1725.11 576.18,1715.69 577.22,1724.83 578.27,1716.87 578.15,1726.17 578.75,1690.97 579.35,1726.17 579.31,1726.17 580.36,1716.90 581.40,1725.19 582.44,1710.37 583.49,1725.77 584.53,1711.25 585.58,1725.89 585.40,1714.98 586.00,1676.30 586.60,1714.98 586.62,1714.98 587.67,1726.41 588.71,1712.36 588.24,1727.33 588.84,1689.90 589.44,1727.33 589.76,1727.33 590.80,1714.17 591.84,1727.30 591.73,1711.50 592.33,1696.45 592.93,1711.50 592.88,1711.50 593.92,1725.81 594.95,1712.81 594.50,1725.14 595.10,1687.24 595.70,1725.14 595.99,1725.14 597.03,1715.92 598.07,1724.93 599.11,1711.22 600.15,1724.07 601.18,1713.50 602.22,1722.79 603.26,1710.60 604.30,1722.26 604.26,1712.61 604.86,1653.21 605.46,1712.61 605.31,1712.61 606.31,1720.32 607.32,1708.02 608.32,1718.54 609.33,1706.13 609.60,1718.26 610.20,1681.70 610.80,1718.26 610.34,1718.26 611.34,1705.84 612.35,1716.79 613.36,1703.03 614.36,1714.76 614.23,1703.74 614.83,1681.36 615.43,1703.74 615.37,1703.74 616.38,1714.67 617.38,1702.52 618.39,1712.43 619.39,1703.20 620.40,1710.75 620.37,1701.46 620.97,1682.66 621.57,1701.46 621.41,1701.46 622.41,1711.05 622.59,1696.13 623.19,1672.43 623.79,1696.13 623.42,1696.13 624.42,1710.12 625.43,1693.21 626.44,1708.87 627.44,1692.82 627.30,1707.91 627.90,1604.30 628.50,1707.91 628.45,1707.91 629.46,1696.08 630.46,1707.73 631.47,1691.37 632.48,1706.89 633.48,1693.88 634.49,1705.78 634.29,1693.66 634.89,1647.76 635.49,1693.66 635.49,1693.66 636.50,1705.30 637.51,1689.31 638.51,1704.50 638.48,1689.53 639.08,1640.94 639.68,1689.53 639.52,1689.53 640.52,1704.67 640.20,1696.58 640.80,1640.00 641.40,1696.58 641.53,1696.58 642.54,1705.87 643.54,1695.33 643.92,1705.88 644.52,1647.57 645.12,1705.88 644.55,1705.88 645.56,1692.90 646.56,1705.45 647.57,1692.39 648.58,1706.17 649.58,1695.23 650.59,1706.61 651.59,1693.09 651.10,1707.59 651.70,1645.90 652.30,1707.59 652.60,1707.59 653.61,1697.49 654.61,1707.74 655.62,1698.57 656.62,1709.41 657.63,1701.52 657.40,1710.17 657.04,1617.80 657.64,1673.91 658.24,1617.80 658.00,1617.80 658.60,1710.17 658.64,1710.17 659.64,1697.21 660.65,1712.22 661.66,1696.68 662.66,1713.84 663.67,1698.65 664.68,1714.05 665.68,1705.55 665.40,1715.12 666.00,1657.50 665.69,1715.12 666.29,1679.92 666.89,1715.12 666.60,1715.12 666.69,1715.12 667.69,1704.31 668.70,1716.64 669.71,1704.60 670.73,1717.05 671.74,1702.79 672.75,1717.61 673.76,1706.58 674.77,1719.24 674.30,1704.51 674.90,1668.30 675.50,1704.51 675.79,1704.51 676.80,1718.98 677.83,1708.74 678.86,1718.54 679.89,1709.35 680.92,1716.22 681.95,1703.94 682.98,1715.62 684.02,1705.61 685.05,1713.60 686.08,1704.06 687.11,1713.50 688.14,1700.72 689.17,1712.59 690.20,1696.92 691.27,1711.97 691.20,1702.92 691.80,1532.60 692.40,1702.92 692.34,1702.92 692.66,1710.70 693.26,1659.04 693.86,1710.70 693.41,1710.70 694.48,1703.09 695.55,1711.09 696.62,1700.49 697.69,1710.48 698.11,1698.83 698.71,1649.13 699.31,1698.83 698.76,1698.83 699.83,1710.55 699.40,1700.71 700.00,1680.00 699.60,1700.71 700.20,1643.44 700.80,1700.71 700.60,1700.71 700.90,1700.71 701.91,1711.05 702.91,1697.28 703.92,1711.82 704.92,1702.12 705.93,1711.72 706.94,1701.26 707.94,1713.15 708.95,1699.80 709.96,1714.11 710.96,1699.23 711.97,1713.55 712.98,1705.11 713.98,1714.86 714.99,1700.38 715.99,1714.96 717.00,1700.55 718.01,1715.20 719.02,1704.80 720.04,1714.43 719.70,1706.74 719.67,1525.90 720.27,1679.00 720.87,1525.90 720.30,1525.90 720.90,1706.74 721.05,1706.74 722.06,1715.02 723.08,1699.54 724.09,1715.28 725.10,1702.81 726.11,1714.73 725.59,1698.96 726.19,1664.29 726.79,1698.96 726.40,1698.96 727.00,1680.00 727.60,1698.96 727.12,1698.96 728.14,1714.81 728.06,1701.40 728.66,1663.41 729.26,1701.40 729.15,1701.40 730.16,1714.01 731.18,1701.92 731.37,1713.45 731.97,1662.78 732.57,1713.45 732.19,1713.45 732.23,1704.44 732.83,1655.99 733.43,1704.44 733.20,1704.44 734.21,1713.94 734.39,1697.46 734.99,1656.75 735.59,1697.46 735.21,1697.46 736.22,1713.23 737.23,1701.63 738.23,1712.41 739.24,1700.76 740.24,1712.63 741.25,1700.28 742.26,1712.38 743.26,1702.16 744.27,1710.85 745.27,1698.72 746.28,1710.51 747.29,1695.59 748.29,1710.67 749.30,1694.45 749.29,1709.66 749.89,1641.50 750.49,1709.66 750.33,1709.66 750.00,1700.82 750.60,1669.60 751.20,1700.82 751.36,1700.82 752.39,1708.77 753.42,1695.84 753.32,1707.80 753.92,1677.14 754.52,1707.80 754.45,1707.80 755.48,1697.17 755.35,1707.33 755.95,1663.28 756.55,1707.33 756.52,1707.33 757.55,1691.28 758.58,1705.53 758.10,1692.40 758.70,1652.10 759.30,1692.40 758.96,1692.40 759.56,1664.04 760.16,1692.40 759.61,1692.40 760.64,1705.12 761.67,1692.80 762.70,1705.13 763.77,1687.07 763.59,1701.23 764.19,1642.29 764.79,1701.23 764.84,1701.23 765.91,1689.69 766.98,1698.17 768.05,1686.30 769.12,1693.81 770.19,1677.62 771.26,1690.21 772.33,1678.58 773.40,1687.72 774.48,1670.92 775.56,1685.65 776.64,1674.27 777.72,1684.53 778.80,1675.30 779.88,1683.42 779.60,1667.45 779.29,1600.60 779.89,1638.68 780.49,1600.60 780.20,1600.60 780.80,1667.45 780.96,1667.45 780.70,1682.09 781.30,1600.20 781.90,1682.09 782.04,1682.09 783.12,1672.39 784.20,1681.22 785.24,1672.87 786.27,1681.36 787.31,1667.18 788.35,1681.48 789.38,1667.70 788.90,1681.06 789.50,1571.60 789.30,1681.06 789.90,1571.50 790.50,1681.06 790.10,1681.06 790.42,1681.06 791.45,1672.32 792.49,1679.82 793.53,1664.29 793.09,1679.10 793.69,1625.98 794.29,1679.10 794.56,1679.10 795.60,1669.46 796.60,1679.57 797.60,1669.46 798.60,1679.67 799.60,1671.22 800.60,1679.18 800.20,1663.94 800.80,1609.30 801.40,1663.94 801.60,1663.94 802.60,1679.03 803.60,1664.36 804.60,1679.08 805.60,1663.66 806.60,1679.88 807.60,1666.42 807.18,1679.03 807.78,1610.08 808.38,1679.03 808.60,1679.03 809.64,1672.20 810.68,1682.10 811.72,1673.31 812.76,1683.26 813.80,1670.22 814.00,1686.44 814.60,1636.60 814.34,1686.44 814.13,1651.36 814.73,1647.52 815.33,1651.36 814.94,1651.36 815.54,1686.44 815.20,1686.44 814.84,1686.44 815.88,1678.49 816.92,1688.66 817.96,1676.68 819.00,1689.81 820.00,1681.45 819.55,1690.44 820.15,1644.96 820.75,1690.44 821.00,1690.44 822.00,1675.02 823.00,1690.88 824.00,1682.49 825.00,1691.28 826.00,1683.14 826.36,1692.23 826.96,1662.93 827.56,1692.23 827.00,1692.23 828.00,1677.45 829.00,1692.40 830.00,1683.85 831.00,1694.40 830.62,1678.02 831.22,1646.99 831.82,1678.02 832.00,1678.02 833.05,1694.37 834.10,1683.23 835.15,1692.57 836.20,1676.79 837.25,1691.98 838.30,1677.97 839.35,1690.90 840.40,1682.63 841.45,1690.15 842.50,1676.01 843.54,1690.28 844.58,1677.10 844.50,1689.42 845.10,1636.60 845.70,1689.42 845.62,1689.42 846.66,1677.00 846.12,1689.04 846.72,1654.81 847.32,1689.04 847.70,1689.04 848.74,1676.68 849.78,1689.32 850.82,1679.01 851.86,1688.59 852.90,1672.80 853.30,1688.65 853.90,1626.30 854.50,1688.65 853.94,1688.65 854.98,1678.48 854.40,1688.49 855.00,1468.60 855.60,1688.49 856.02,1688.49 857.06,1672.85 858.10,1686.87 859.15,1676.84 860.19,1686.06 861.24,1677.68 862.29,1686.43 863.33,1673.96 864.38,1685.40 865.43,1675.45 866.47,1683.16 867.52,1668.54 868.57,1683.54 868.50,1666.70 869.10,1491.60 869.70,1666.70 869.61,1666.70 870.66,1682.50 871.71,1669.56 872.75,1681.76 873.80,1672.16 874.84,1680.79 875.88,1669.02 876.30,1679.81 876.90,1626.20 877.50,1679.81 876.92,1679.81 877.96,1667.40 879.00,1679.75 878.42,1667.81 879.02,1616.67 879.62,1667.81 880.04,1667.81 881.08,1679.48 882.12,1668.97 882.54,1679.11 883.14,1645.50 883.74,1679.11 883.16,1679.11 884.20,1666.36 885.24,1679.76 885.40,1663.33 886.00,1613.20 886.60,1663.33 886.28,1663.33 887.32,1679.23 888.36,1663.79 888.66,1677.96 889.26,1645.43 889.86,1677.96 889.40,1677.96 890.44,1663.14 891.48,1679.23 892.52,1671.26 892.70,1680.90 893.30,1590.50 893.90,1680.90 893.56,1680.90 894.60,1667.69 895.64,1681.95 895.89,1669.69 896.49,1645.59 897.09,1669.69 896.68,1669.69 897.72,1683.15 897.91,1668.41 898.51,1658.25 899.11,1668.41 898.76,1668.41 899.80,1684.72 900.84,1673.63 901.88,1686.15 902.92,1671.75 903.96,1688.18 903.40,1675.82 904.00,1576.70 904.60,1675.82 904.22,1675.82 904.82,1623.12 905.42,1675.82 905.00,1675.82 906.04,1688.61 907.08,1676.41 908.12,1689.31 909.16,1679.25 910.20,1691.86 910.10,1676.82 910.70,1601.50 911.30,1676.82 911.24,1676.82 912.28,1690.07 913.32,1675.68 914.36,1690.07 915.40,1674.15 916.44,1689.53 917.48,1679.76 918.52,1689.30 919.56,1673.89 919.51,1688.59 920.11,1622.94 920.71,1688.59 920.60,1688.59 920.61,1673.50 921.21,1636.49 921.81,1673.50 921.64,1673.50 922.68,1688.52 922.69,1677.03 923.29,1623.33 923.05,1677.03 923.65,1658.26 924.25,1677.03 923.89,1677.03 923.72,1677.03 924.76,1687.34 925.80,1675.36 926.85,1686.81 927.89,1675.55 928.94,1686.34 929.99,1670.67 931.03,1685.37 932.08,1675.63 931.70,1683.92 932.30,1570.20 932.90,1683.92 933.13,1683.92 934.17,1672.97 935.22,1683.68 935.40,1673.95 936.00,1620.00 936.60,1673.95 936.27,1673.95 937.31,1681.96 938.36,1671.63 939.41,1681.42 940.45,1673.10 941.50,1680.96 942.54,1664.94 943.58,1679.78 944.62,1665.25 945.66,1679.09 946.70,1663.27 947.74,1678.05 947.90,1665.27 948.50,1580.60 949.10,1665.27 948.78,1665.27 949.82,1676.51 950.86,1666.67 951.90,1675.66 952.94,1663.44 953.98,1673.84 955.02,1658.17 954.54,1672.37 955.14,1637.50 955.74,1672.37 956.06,1672.37 957.10,1662.61 958.14,1672.06 959.18,1658.16 960.22,1669.71 961.26,1661.56 961.51,1668.96 962.11,1635.73 962.71,1668.96 962.30,1668.96 963.34,1661.79 964.38,1671.03 965.42,1661.68 965.30,1671.44 965.90,1565.00 966.50,1671.44 966.46,1671.44 967.50,1661.34 968.54,1673.12 969.58,1662.29 970.62,1674.61 971.66,1661.77 972.70,1675.60 972.60,1667.79 973.20,1554.60 973.80,1667.79 973.74,1667.79 974.78,1678.20 975.20,1664.77 975.80,1458.20 976.40,1664.77 975.82,1664.77 976.86,1678.50 977.90,1668.50 978.94,1681.31 978.42,1665.83 979.02,1637.00 979.62,1665.83 979.98,1665.83 979.40,1681.94 980.00,1581.90 980.60,1681.94 981.02,1681.94 981.44,1675.42 982.04,1633.31 982.64,1675.42 982.06,1675.42 981.78,1684.33 982.38,1629.88 982.98,1684.33 983.10,1684.33 984.14,1673.86 985.18,1686.73 986.22,1672.35 986.40,1687.56 987.00,1624.90 987.60,1687.56 987.26,1687.56 988.30,1677.35 989.35,1689.44 989.58,1674.84 990.18,1653.23 990.78,1674.84 990.39,1674.84 990.50,1690.04 991.10,1626.87 991.70,1690.04 991.44,1690.04 992.49,1679.99 993.53,1691.07 994.58,1679.21 995.63,1692.19 996.67,1678.07 997.72,1694.20 997.25,1682.18 997.85,1662.30 998.45,1682.18 998.77,1682.18 998.23,1694.71 998.83,1661.58 999.43,1694.71 999.81,1694.71 1000.86,1691.05 1001.91,1696.54 1002.95,1689.76 1004.00,1697.86 1005.04,1693.01 1006.08,1699.26 1007.12,1692.19 1008.16,1699.23 1009.20,1694.72 1010.24,1699.56 1011.28,1692.63 1012.32,1699.99 1013.36,1694.79 1014.40,1701.46 1015.44,1696.19 1016.48,1702.39 1016.40,1694.67 1017.00,1685.00 1017.60,1694.67 1017.52,1694.67 1018.56,1703.23 1019.60,1696.05 1020.64,1702.66 1021.68,1699.02 1022.72,1703.28 1023.76,1698.27 1024.80,1703.16 1025.84,1696.29 1026.88,1703.46 1027.92,1696.75 1028.96,1704.87 1030.00,1699.82 1031.04,1705.09 1031.40,1698.97 1032.00,1680.00 1032.60,1698.97 1032.08,1698.97 1033.12,1704.23 1034.16,1700.07 1035.20,1704.21 1036.24,1699.08 1037.28,1705.02 1038.32,1697.93 1039.36,1706.00 1040.40,1702.96 1041.40,1705.54 1042.41,1702.33 1043.41,1705.38 1044.42,1702.87 1045.42,1705.72 1046.42,1701.96 1047.43,1706.04 1048.43,1703.62 1049.43,1706.05 1050.44,1702.99 1051.44,1706.80 1052.45,1703.69 1053.45,1707.22 1054.45,1703.96 1055.46,1707.37 1056.46,1703.18 1057.47,1706.78 1057.40,1703.02 1058.00,1677.00 1058.60,1703.02 1058.47,1703.02 1059.47,1707.33 1060.48,1703.75 1061.48,1707.86 1062.48,1703.73 1063.49,1707.81 1064.49,1705.36 1065.50,1708.56 1066.50,1703.55 1067.54,1708.18 1068.58,1704.25 1069.62,1707.83 1070.66,1703.45 1071.70,1708.50 1072.74,1705.15 1073.78,1708.71 1074.82,1703.23 1074.40,1707.95 1075.00,1690.00 1075.60,1707.95 1075.86,1707.95 1076.90,1703.21 1077.94,1708.17 1078.98,1705.25 1078.40,1708.55 1079.00,1568.90 1079.60,1708.55 1080.02,1708.55 1081.06,1704.85 1081.50,1708.57 1082.10,1609.30 1082.70,1708.57 1082.10,1708.57 1083.14,1704.24 1084.18,1707.57 1085.22,1704.38 1086.26,1708.76 1087.30,1704.51 1088.47,1708.21 1089.65,1703.44 1090.83,1707.96 1092.00,1704.27" fill="none" stroke="#56c6c4" stroke-width="2.2" stroke-linejoin="round" stroke-linecap="butt"/>
</g>
<line x1="148.00" y1="1884.00" x2="1091.00" y2="1884.00" stroke="#333" stroke-width="3" stroke-dasharray="9.5 3.7"/>
<rect x="148.00" y="1443.00" width="943.00" height="588.00" fill="none" stroke="#000" stroke-width="3"/>
<line x1="265.88" y1="2031.00" x2="265.88" y2="2021.00" stroke="#000" stroke-width="3"/>
<line x1="265.88" y1="1443.00" x2="265.88" y2="1453.00" stroke="#000" stroke-width="3"/>
<line x1="383.76" y1="2031.00" x2="383.76" y2="2021.00" stroke="#000" stroke-width="3"/>
<line x1="383.76" y1="1443.00" x2="383.76" y2="1453.00" stroke="#000" stroke-width="3"/>
<line x1="501.64" y1="2031.00" x2="501.64" y2="2021.00" stroke="#000" stroke-width="3"/>
<line x1="501.64" y1="1443.00" x2="501.64" y2="1453.00" stroke="#000" stroke-width="3"/>
<line x1="619.52" y1="2031.00" x2="619.52" y2="2021.00" stroke="#000" stroke-width="3"/>
<line x1="619.52" y1="1443.00" x2="619.52" y2="1453.00" stroke="#000" stroke-width="3"/>
<line x1="737.40" y1="2031.00" x2="737.40" y2="2021.00" stroke="#000" stroke-width="3"/>
<line x1="737.40" y1="1443.00" x2="737.40" y2="1453.00" stroke="#000" stroke-width="3"/>
<line x1="855.28" y1="2031.00" x2="855.28" y2="2021.00" stroke="#000" stroke-width="3"/>
<line x1="855.28" y1="1443.00" x2="855.28" y2="1453.00" stroke="#000" stroke-width="3"/>
<line x1="973.16" y1="2031.00" x2="973.16" y2="2021.00" stroke="#000" stroke-width="3"/>
<line x1="973.16" y1="1443.00" x2="973.16" y2="1453.00" stroke="#000" stroke-width="3"/>
<line x1="148.00" y1="1986.75" x2="153.50" y2="1986.75" stroke="#000" stroke-width="2.5"/>
<line x1="1091.00" y1="1986.75" x2="1085.50" y2="1986.75" stroke="#000" stroke-width="2.5"/>
<line x1="148.00" y1="1960.86" x2="153.50" y2="1960.86" stroke="#000" stroke-width="2.5"/>
<line x1="1091.00" y1="1960.86" x2="1085.50" y2="1960.86" stroke="#000" stroke-width="2.5"/>
<line x1="148.00" y1="1942.50" x2="153.50" y2="1942.50" stroke="#000" stroke-width="2.5"/>
<line x1="1091.00" y1="1942.50" x2="1085.50" y2="1942.50" stroke="#000" stroke-width="2.5"/>
<line x1="148.00" y1="1928.25" x2="153.50" y2="1928.25" stroke="#000" stroke-width="2.5"/>
<line x1="1091.00" y1="1928.25" x2="1085.50" y2="1928.25" stroke="#000" stroke-width="2.5"/>
<line x1="148.00" y1="1916.61" x2="153.50" y2="1916.61" stroke="#000" stroke-width="2.5"/>
<line x1="1091.00" y1="1916.61" x2="1085.50" y2="1916.61" stroke="#000" stroke-width="2.5"/>
<line x1="148.00" y1="1906.77" x2="153.50" y2="1906.77" stroke="#000" stroke-width="2.5"/>
<line x1="1091.00" y1="1906.77" x2="1085.50" y2="1906.77" stroke="#000" stroke-width="2.5"/>
<line x1="148.00" y1="1898.25" x2="153.50" y2="1898.25" stroke="#000" stroke-width="2.5"/>
<line x1="1091.00" y1="1898.25" x2="1085.50" y2="1898.25" stroke="#000" stroke-width="2.5"/>
<line x1="148.00" y1="1890.73" x2="153.50" y2="1890.73" stroke="#000" stroke-width="2.5"/>
<line x1="1091.00" y1="1890.73" x2="1085.50" y2="1890.73" stroke="#000" stroke-width="2.5"/>
<line x1="148.00" y1="1884.00" x2="158.00" y2="1884.00" stroke="#000" stroke-width="3"/>
<line x1="1091.00" y1="1884.00" x2="1081.00" y2="1884.00" stroke="#000" stroke-width="3"/>
<line x1="148.00" y1="1839.75" x2="153.50" y2="1839.75" stroke="#000" stroke-width="2.5"/>
<line x1="1091.00" y1="1839.75" x2="1085.50" y2="1839.75" stroke="#000" stroke-width="2.5"/>
<line x1="148.00" y1="1813.86" x2="153.50" y2="1813.86" stroke="#000" stroke-width="2.5"/>
<line x1="1091.00" y1="1813.86" x2="1085.50" y2="1813.86" stroke="#000" stroke-width="2.5"/>
<line x1="148.00" y1="1795.50" x2="153.50" y2="1795.50" stroke="#000" stroke-width="2.5"/>
<line x1="1091.00" y1="1795.50" x2="1085.50" y2="1795.50" stroke="#000" stroke-width="2.5"/>
<line x1="148.00" y1="1781.25" x2="153.50" y2="1781.25" stroke="#000" stroke-width="2.5"/>
<line x1="1091.00" y1="1781.25" x2="1085.50" y2="1781.25" stroke="#000" stroke-width="2.5"/>
<line x1="148.00" y1="1769.61" x2="153.50" y2="1769.61" stroke="#000" stroke-width="2.5"/>
<line x1="1091.00" y1="1769.61" x2="1085.50" y2="1769.61" stroke="#000" stroke-width="2.5"/>
<line x1="148.00" y1="1759.77" x2="153.50" y2="1759.77" stroke="#000" stroke-width="2.5"/>
<line x1="1091.00" y1="1759.77" x2="1085.50" y2="1759.77" stroke="#000" stroke-width="2.5"/>
<line x1="148.00" y1="1751.25" x2="153.50" y2="1751.25" stroke="#000" stroke-width="2.5"/>
<line x1="1091.00" y1="1751.25" x2="1085.50" y2="1751.25" stroke="#000" stroke-width="2.5"/>
<line x1="148.00" y1="1743.73" x2="153.50" y2="1743.73" stroke="#000" stroke-width="2.5"/>
<line x1="1091.00" y1="1743.73" x2="1085.50" y2="1743.73" stroke="#000" stroke-width="2.5"/>
<line x1="148.00" y1="1737.00" x2="158.00" y2="1737.00" stroke="#000" stroke-width="3"/>
<line x1="1091.00" y1="1737.00" x2="1081.00" y2="1737.00" stroke="#000" stroke-width="3"/>
<line x1="148.00" y1="1692.75" x2="153.50" y2="1692.75" stroke="#000" stroke-width="2.5"/>
<line x1="1091.00" y1="1692.75" x2="1085.50" y2="1692.75" stroke="#000" stroke-width="2.5"/>
<line x1="148.00" y1="1666.86" x2="153.50" y2="1666.86" stroke="#000" stroke-width="2.5"/>
<line x1="1091.00" y1="1666.86" x2="1085.50" y2="1666.86" stroke="#000" stroke-width="2.5"/>
<line x1="148.00" y1="1648.50" x2="153.50" y2="1648.50" stroke="#000" stroke-width="2.5"/>
<line x1="1091.00" y1="1648.50" x2="1085.50" y2="1648.50" stroke="#000" stroke-width="2.5"/>
<line x1="148.00" y1="1634.25" x2="153.50" y2="1634.25" stroke="#000" stroke-width="2.5"/>
<line x1="1091.00" y1="1634.25" x2="1085.50" y2="1634.25" stroke="#000" stroke-width="2.5"/>
<line x1="148.00" y1="1622.61" x2="153.50" y2="1622.61" stroke="#000" stroke-width="2.5"/>
<line x1="1091.00" y1="1622.61" x2="1085.50" y2="1622.61" stroke="#000" stroke-width="2.5"/>
<line x1="148.00" y1="1612.77" x2="153.50" y2="1612.77" stroke="#000" stroke-width="2.5"/>
<line x1="1091.00" y1="1612.77" x2="1085.50" y2="1612.77" stroke="#000" stroke-width="2.5"/>
<line x1="148.00" y1="1604.25" x2="153.50" y2="1604.25" stroke="#000" stroke-width="2.5"/>
<line x1="1091.00" y1="1604.25" x2="1085.50" y2="1604.25" stroke="#000" stroke-width="2.5"/>
<line x1="148.00" y1="1596.73" x2="153.50" y2="1596.73" stroke="#000" stroke-width="2.5"/>
<line x1="1091.00" y1="1596.73" x2="1085.50" y2="1596.73" stroke="#000" stroke-width="2.5"/>
<line x1="148.00" y1="1590.00" x2="158.00" y2="1590.00" stroke="#000" stroke-width="3"/>
<line x1="1091.00" y1="1590.00" x2="1081.00" y2="1590.00" stroke="#000" stroke-width="3"/>
<line x1="148.00" y1="1545.75" x2="153.50" y2="1545.75" stroke="#000" stroke-width="2.5"/>
<line x1="1091.00" y1="1545.75" x2="1085.50" y2="1545.75" stroke="#000" stroke-width="2.5"/>
<line x1="148.00" y1="1519.86" x2="153.50" y2="1519.86" stroke="#000" stroke-width="2.5"/>
<line x1="1091.00" y1="1519.86" x2="1085.50" y2="1519.86" stroke="#000" stroke-width="2.5"/>
<line x1="148.00" y1="1501.50" x2="153.50" y2="1501.50" stroke="#000" stroke-width="2.5"/>
<line x1="1091.00" y1="1501.50" x2="1085.50" y2="1501.50" stroke="#000" stroke-width="2.5"/>
<line x1="148.00" y1="1487.25" x2="153.50" y2="1487.25" stroke="#000" stroke-width="2.5"/>
<line x1="1091.00" y1="1487.25" x2="1085.50" y2="1487.25" stroke="#000" stroke-width="2.5"/>
<line x1="148.00" y1="1475.61" x2="153.50" y2="1475.61" stroke="#000" stroke-width="2.5"/>
<line x1="1091.00" y1="1475.61" x2="1085.50" y2="1475.61" stroke="#000" stroke-width="2.5"/>
<line x1="148.00" y1="1465.77" x2="153.50" y2="1465.77" stroke="#000" stroke-width="2.5"/>
<line x1="1091.00" y1="1465.77" x2="1085.50" y2="1465.77" stroke="#000" stroke-width="2.5"/>
<line x1="148.00" y1="1457.25" x2="153.50" y2="1457.25" stroke="#000" stroke-width="2.5"/>
<line x1="1091.00" y1="1457.25" x2="1085.50" y2="1457.25" stroke="#000" stroke-width="2.5"/>
<line x1="148.00" y1="1449.73" x2="153.50" y2="1449.73" stroke="#000" stroke-width="2.5"/>
<line x1="1091.00" y1="1449.73" x2="1085.50" y2="1449.73" stroke="#000" stroke-width="2.5"/>
<g transform="translate(138.45,2074.88) scale(0.9550,1)"><text x="0.00" y="0.00" font-size="40" xml:space="preserve">0</text></g>
<g transform="translate(246.78,2074.88) scale(0.9550,1)"><text x="0.00" y="0.00" font-size="40" xml:space="preserve">20</text></g>
<g transform="translate(364.66,2074.88) scale(0.9550,1)"><text x="0.00" y="0.00" font-size="40" xml:space="preserve">40</text></g>
<g transform="translate(482.54,2074.88) scale(0.9550,1)"><text x="0.00" y="0.00" font-size="40" xml:space="preserve">60</text></g>
<g transform="translate(600.42,2074.88) scale(0.9550,1)"><text x="0.00" y="0.00" font-size="40" xml:space="preserve">80</text></g>
<g transform="translate(708.75,2074.88) scale(0.9550,1)"><text x="0.00" y="0.00" font-size="40" xml:space="preserve">100</text></g>
<g transform="translate(826.63,2074.88) scale(0.9550,1)"><text x="0.00" y="0.00" font-size="40" xml:space="preserve">120</text></g>
<g transform="translate(944.51,2074.88) scale(0.9550,1)"><text x="0.00" y="0.00" font-size="40" xml:space="preserve">140</text></g>
<g transform="translate(1062.39,2074.88) scale(0.9550,1)"><text x="0.00" y="0.00" font-size="40" xml:space="preserve">160</text></g>
<g transform="translate(84.20,1456.38) scale(0.7625,1)"><text x="0.00" y="0.00" font-size="40" xml:space="preserve">10</text></g>
<g transform="translate(116.70,1445.19) scale(0.9550,1)"><text x="0.00" y="0.00" font-size="28" xml:space="preserve">4</text></g>
<g transform="translate(85.40,1603.53) scale(0.7300,1)"><text x="0.00" y="0.00" font-size="40" xml:space="preserve">10</text></g>
<g transform="translate(117.00,1591.62) scale(0.9550,1)"><text x="0.00" y="0.00" font-size="28" xml:space="preserve">3</text></g>
<g transform="translate(85.40,1750.92) scale(0.7300,1)"><text x="0.00" y="0.00" font-size="40" xml:space="preserve">10</text></g>
<g transform="translate(117.00,1738.75) scale(0.9550,1)"><text x="0.00" y="0.00" font-size="28" xml:space="preserve">2</text></g>
<g transform="translate(85.40,1899.42) scale(0.7300,1)"><text x="0.00" y="0.00" font-size="40" xml:space="preserve">10</text></g>
<g transform="translate(117.00,1886.75) scale(0.9550,1)"><text x="0.00" y="0.00" font-size="28" xml:space="preserve">1</text></g>
<g transform="translate(85.40,2047.92) scale(0.7300,1)"><text x="0.00" y="0.00" font-size="40" xml:space="preserve">10</text></g>
<g transform="translate(117.00,2035.69) scale(0.9550,1)"><text x="0.00" y="0.00" font-size="28" xml:space="preserve">0</text></g>
<g transform="translate(506.20,2117.00) scale(1.0208,1)"><text x="0.00" y="0.00" font-size="40" font-style="italic" xml:space="preserve">t</text><text x="11.11" y="0.00" font-size="40" xml:space="preserve"> - </text><text x="44.43" y="0.00" font-size="40" font-style="italic" xml:space="preserve">t</text><text x="55.55" y="7.00" font-size="28" xml:space="preserve">merger</text><text x="138.32" y="0.00" font-size="40" xml:space="preserve"> (ms)</text></g>
<g transform="translate(55.50,1734.00) rotate(-90) translate(-62.00,5.62) scale(0.9870,1)"><path d="M11.0,-30 L0,-10.0 L11.0,10 M98.9,-30 L109.9,-10.0 L98.9,10" fill="none" stroke="#333" stroke-width="1.6"/><text x="15.00" y="0.00" font-size="40" font-style="italic" xml:space="preserve">Q</text><text x="43.89" y="6.00" font-size="27" xml:space="preserve">MRI</text><text x="112.64" y="13.00" font-size="27" font-style="italic" xml:space="preserve">ρ</text></g>
<line x1="170.00" y1="1475.00" x2="225.50" y2="1475.00" stroke="#5252d8" stroke-width="3"/>
<line x1="170.00" y1="1511.20" x2="225.50" y2="1511.20" stroke="#5a9e5e" stroke-width="3"/>
<line x1="170.00" y1="1548.30" x2="225.50" y2="1548.30" stroke="#56c6c4" stroke-width="3"/>
<line x1="170.00" y1="1583.90" x2="225.50" y2="1583.90" stroke="#9e4ea8" stroke-width="3"/>
<g transform="translate(247.40,1483.50) scale(1.0345,1)"><text x="0.00" y="0.00" font-size="25" xml:space="preserve">12.5m,</text></g>
<g transform="translate(328.48,1483.50) scale(0.9098,1)"><text x="0.00" y="0.00" font-size="25" font-style="italic" xml:space="preserve">ρ</text></g>
<path d="M367.0,1466.9 L349.0,1474.1 L367.0,1481.5 M349.0,1486.8 L367.0,1486.8" fill="none" stroke="#333" stroke-width="1.69" stroke-linejoin="miter"/>
<g transform="translate(376.17,1483.50) scale(1.0309,1)"><text x="0.00" y="0.00" font-size="25" font-style="italic" xml:space="preserve">ρ</text><text x="12.00" y="4.50" font-size="18" xml:space="preserve">13</text></g>
<g transform="translate(247.40,1521.30) scale(1.0040,1)"><text x="0.00" y="0.00" font-size="25" xml:space="preserve">12.5m</text></g>
<path d="M321.4,1514.1 L343.7,1514.1 M337.7,1507.7 Q341.5,1512.8 344.7,1514.1 Q341.5,1515.4 337.7,1520.5" fill="none" stroke="#333" stroke-width="1.44"/>
<g transform="translate(355.30,1521.30) scale(1.0621,1)"><text x="0.00" y="0.00" font-size="25" xml:space="preserve">50m,</text></g>
<g transform="translate(418.51,1521.30) scale(1.0824,1)"><text x="0.00" y="0.00" font-size="25" font-style="italic" xml:space="preserve">ρ</text></g>
<path d="M456.8,1504.7 L438.9,1511.9 L456.8,1519.3 M438.9,1524.6 L456.8,1524.6" fill="none" stroke="#333" stroke-width="1.69" stroke-linejoin="miter"/>
<g transform="translate(466.07,1521.30) scale(1.0309,1)"><text x="0.00" y="0.00" font-size="25" font-style="italic" xml:space="preserve">ρ</text><text x="12.00" y="4.50" font-size="18" xml:space="preserve">13</text></g>
<g transform="translate(246.30,1557.30) scale(1.0000,1)"><text x="0.00" y="0.00" font-size="25" xml:space="preserve">50m</text></g>
<path d="M301.3,1550.1 L324.7,1550.1 M318.7,1543.7 Q322.5,1548.8 325.7,1550.1 Q322.5,1551.4 318.7,1556.5" fill="none" stroke="#333" stroke-width="1.44"/>
<g transform="translate(336.30,1557.30) scale(1.0198,1)"><text x="0.00" y="0.00" font-size="25" xml:space="preserve">100m,</text></g>
<g transform="translate(411.11,1557.30) scale(1.0745,1)"><text x="0.00" y="0.00" font-size="25" font-style="italic" xml:space="preserve">ρ</text></g>
<path d="M449.4,1540.7 L431.5,1547.9 L449.4,1555.3 M431.5,1560.6 L449.4,1560.6" fill="none" stroke="#333" stroke-width="1.69" stroke-linejoin="miter"/>
<g transform="translate(458.67,1557.30) scale(1.0309,1)"><text x="0.00" y="0.00" font-size="25" font-style="italic" xml:space="preserve">ρ</text><text x="12.00" y="4.50" font-size="18" xml:space="preserve">13</text></g>
<g transform="translate(246.30,1593.70) scale(1.0035,1)"><text x="0.00" y="0.00" font-size="25" xml:space="preserve">200m</text></g>
</g>
</svg></body></html>
